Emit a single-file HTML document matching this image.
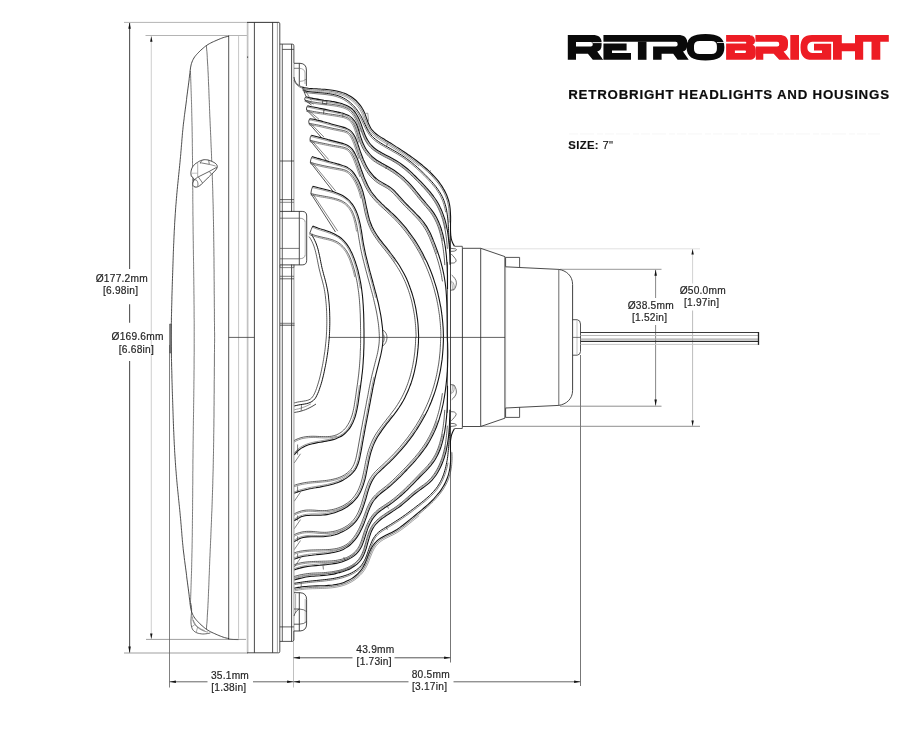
<!DOCTYPE html>
<html><head><meta charset="utf-8"><title>RetroBright 7in</title>
<style>
html,body{margin:0;padding:0;background:#fff;}
body{width:908px;height:737px;overflow:hidden;position:relative;font-family:"Liberation Sans",sans-serif;}
svg{position:absolute;left:0;top:0;display:block;will-change:transform;opacity:0.999;}
svg text{font-family:"Liberation Sans",sans-serif;stroke:none;}
</style></head><body>
<svg width="908" height="737" viewBox="0 0 908 737" fill="none" stroke-linecap="butt" stroke-linejoin="round">
<path d="M124 22.4L279 22.4" stroke="#b4b4b4" stroke-width="1"/>
<path d="M124 653L248 653" stroke="#8e8e8e" stroke-width="0.85"/>
<path d="M129.6 23L129.6 269" stroke="#555" stroke-width="1.1"/>
<path d="M129.6 304.3L129.6 322.8" stroke="#555" stroke-width="1.1"/>
<path d="M129.6 361L129.6 652.5" stroke="#555" stroke-width="1.1"/>
<path d="M129.6 22.6L128.3 28.8L130.8 28.8Z" fill="#111" stroke="none"/>
<path d="M129.6 652.8L128.3 646.6L130.8 646.6Z" fill="#111" stroke="none"/>
<path d="M145.5 35.5L247.5 35.5" stroke="#b4b4b4" stroke-width="1"/>
<path d="M146 639.4L246 639.4" stroke="#8e8e8e" stroke-width="0.85"/>
<path d="M151.3 36L151.3 639" stroke="#d2d2d2" stroke-width="1.1"/>
<path d="M151.3 36.2L150.1 41.8L152.5 41.8Z" fill="#111" stroke="none"/>
<path d="M151.3 639L150.1 633.4L152.5 633.4Z" fill="#111" stroke="none"/>
<text x="121.8" y="281.6" font-size="10.2" fill="#242424" text-anchor="middle" style="letter-spacing:0.22px;stroke:#2a2a2a;stroke-width:0.18px">&#216;177.2mm</text>
<text x="120.6" y="293.8" font-size="10.2" fill="#242424" text-anchor="middle" style="letter-spacing:0.22px;stroke:#2a2a2a;stroke-width:0.18px">[6.98in]</text>
<text x="137.6" y="340.3" font-size="10.2" fill="#242424" text-anchor="middle" style="letter-spacing:0.22px;stroke:#2a2a2a;stroke-width:0.18px">&#216;169.6mm</text>
<text x="136.4" y="352.5" font-size="10.2" fill="#242424" text-anchor="middle" style="letter-spacing:0.22px;stroke:#2a2a2a;stroke-width:0.18px">[6.68in]</text>
<path d="M481 248.8L700 248.8" stroke="#e2e2e2" stroke-width="1"/>
<path d="M481 426.3L700 426.3" stroke="#7a7a7a" stroke-width="0.85"/>
<path d="M692.6 249L692.6 283.5" stroke="#d2d2d2" stroke-width="1.0"/>
<path d="M692.6 310.5L692.6 426" stroke="#bcbcbc" stroke-width="1.0"/>
<path d="M692.6 249L691.4 254.6L693.8 254.6Z" fill="#111" stroke="none"/>
<path d="M692.6 426L691.4 420.4L693.8 420.4Z" fill="#111" stroke="none"/>
<path d="M560 269.3L661.5 269.3" stroke="#8c8c8c" stroke-width="0.9"/>
<path d="M560 406.2L661.5 406.2" stroke="#7a7a7a" stroke-width="0.85"/>
<path d="M655.6 270L655.6 298" stroke="#7a7a7a" stroke-width="0.9"/>
<path d="M655.6 325L655.6 405.5" stroke="#7a7a7a" stroke-width="0.9"/>
<path d="M655.6 269.6L654.4 275.8L656.9 275.8Z" fill="#111" stroke="none"/>
<path d="M655.6 405.8L654.4 399.6L656.9 399.6Z" fill="#111" stroke="none"/>
<text x="650.8" y="308.8" font-size="10.2" fill="#242424" text-anchor="middle" style="letter-spacing:0.22px;stroke:#2a2a2a;stroke-width:0.18px">&#216;38.5mm</text>
<text x="649.6" y="321" font-size="10.2" fill="#242424" text-anchor="middle" style="letter-spacing:0.22px;stroke:#2a2a2a;stroke-width:0.18px">[1.52in]</text>
<text x="702.8" y="293.8" font-size="10.2" fill="#242424" text-anchor="middle" style="letter-spacing:0.22px;stroke:#2a2a2a;stroke-width:0.18px">&#216;50.0mm</text>
<text x="701.6" y="306" font-size="10.2" fill="#242424" text-anchor="middle" style="letter-spacing:0.22px;stroke:#2a2a2a;stroke-width:0.18px">[1.97in]</text>
<path d="M169.5 345L169.5 687.5" stroke="#6a6a6a" stroke-width="0.85"/>
<path d="M293.5 630L293.5 687.5" stroke="#c0c0c0" stroke-width="1"/>
<path d="M450.5 452L450.5 662.5" stroke="#777" stroke-width="1"/>
<path d="M580.5 355L580.5 686" stroke="#777" stroke-width="1"/>
<path d="M169.5 681.8L207.5 681.8" stroke="#666" stroke-width="1"/>
<path d="M253 681.8L293.5 681.8" stroke="#666" stroke-width="1"/>
<path d="M169.7 681.8L175.9 680.5L175.9 683Z" fill="#111" stroke="none"/>
<path d="M293.3 681.8L287.1 680.5L287.1 683Z" fill="#111" stroke="none"/>
<text x="230" y="678.8" font-size="10.2" fill="#242424" text-anchor="middle" style="letter-spacing:0.22px;stroke:#2a2a2a;stroke-width:0.18px">35.1mm</text>
<text x="228.8" y="691" font-size="10.2" fill="#242424" text-anchor="middle" style="letter-spacing:0.22px;stroke:#2a2a2a;stroke-width:0.18px">[1.38in]</text>
<path d="M293.5 657.8L352.5 657.8" stroke="#555" stroke-width="1"/>
<path d="M394.5 657.8L450.5 657.8" stroke="#555" stroke-width="1"/>
<path d="M293.7 657.8L299.9 656.5L299.9 659Z" fill="#111" stroke="none"/>
<path d="M450.3 657.8L444.1 656.5L444.1 659Z" fill="#111" stroke="none"/>
<text x="375.4" y="653.2" font-size="10.2" fill="#242424" text-anchor="middle" style="letter-spacing:0.22px;stroke:#2a2a2a;stroke-width:0.18px">43.9mm</text>
<text x="374.2" y="664.8" font-size="10.2" fill="#242424" text-anchor="middle" style="letter-spacing:0.22px;stroke:#2a2a2a;stroke-width:0.18px">[1.73in]</text>
<path d="M293.5 681.8L408.5 681.8" stroke="#666" stroke-width="1"/>
<path d="M453.5 681.8L580.5 681.8" stroke="#666" stroke-width="1"/>
<path d="M293.7 681.8L299.9 680.5L299.9 683Z" fill="#111" stroke="none"/>
<path d="M580.3 681.8L574.1 680.5L574.1 683Z" fill="#111" stroke="none"/>
<text x="430.8" y="677.6" font-size="10.2" fill="#242424" text-anchor="middle" style="letter-spacing:0.22px;stroke:#2a2a2a;stroke-width:0.18px">80.5mm</text>
<text x="429.6" y="689.6" font-size="10.2" fill="#242424" text-anchor="middle" style="letter-spacing:0.22px;stroke:#2a2a2a;stroke-width:0.18px">[3.17in]</text>
<path d="M229 36.2L227.5 36.5Q226 36.8 224.6 37.2Q223.1 37.6 221.7 38.2Q220.3 38.7 218.9 39.3Q217.5 39.9 216.1 40.5Q214.8 41.1 213.4 41.7Q212 42.3 210.7 43Q209.3 43.7 208 44.5Q206.8 45.3 205.5 46.2Q204.3 47.1 203.2 48.1Q202.1 49.1 200.9 50.1Q199.8 51.1 198.8 52.2Q197.7 53.3 196.7 54.4Q195.7 55.5 194.8 56.7Q193.9 58 193.2 59.3Q192.5 60.6 192 62Q191.4 63.5 191.1 64.9Q190.8 66.4 190.5 67.9Q190.3 69.4 190.1 70.9Q190 72.4 189.8 73.9Q189.6 75.4 189.4 76.9Q189.2 78.4 189.1 79.9Q188.9 81.4 188.7 82.9Q188.5 84.4 188.3 85.9Q188.1 87.4 187.9 88.9Q187.7 90.4 187.5 91.9Q187.3 93.4 187.1 94.9Q186.9 96.4 186.7 97.9Q186.6 99.4 186.4 100.9Q186.2 102.4 186 103.9Q185.8 105.4 185.6 106.9Q185.4 108.4 185.2 109.9Q185 111.4 184.8 112.9Q184.6 114.3 184.4 115.8Q184.2 117.3 184.1 118.8Q183.9 120.3 183.7 121.8Q183.5 123.3 183.3 124.8Q183.2 126.3 183 127.9Q182.9 129.4 182.7 130.9Q182.6 132.4 182.4 133.9Q182.3 135.4 182.2 136.9Q182 138.4 181.9 139.9Q181.8 141.4 181.7 142.9Q181.6 144.4 181.4 145.9Q181.3 147.4 181.2 148.9Q181.1 150.4 180.9 151.9Q180.8 153.4 180.7 154.9Q180.5 156.4 180.4 157.9Q180.2 159.5 180.1 161Q180 162.5 179.8 164Q179.7 165.5 179.5 167Q179.4 168.5 179.2 170Q179.1 171.5 178.9 173Q178.7 174.5 178.6 176Q178.4 177.5 178.3 179Q178.1 180.5 178 182Q177.8 183.5 177.7 185Q177.5 186.5 177.4 188Q177.2 189.5 177.1 191Q177 192.5 176.8 194Q176.7 195.5 176.6 197Q176.4 198.5 176.3 200Q176.2 201.6 176.1 203.1Q175.9 204.6 175.8 206.1Q175.7 207.6 175.6 209.1Q175.5 210.6 175.4 212.1Q175.3 213.6 175.2 215.1Q175.1 216.6 175 218.1Q174.9 219.6 174.8 221.1Q174.7 222.7 174.6 224.2Q174.6 225.7 174.5 227.2Q174.4 228.7 174.3 230.2Q174.2 231.7 174.2 233.2Q174.1 234.7 174 236.2Q174 237.7 173.9 239.2Q173.8 240.8 173.8 242.3Q173.7 243.8 173.6 245.3Q173.6 246.8 173.5 248.3Q173.5 249.8 173.4 251.3Q173.3 252.8 173.3 254.3Q173.2 255.9 173.2 257.4Q173.1 258.9 173.1 260.4Q173 261.9 173 263.4Q172.9 264.9 172.9 266.4Q172.8 267.9 172.8 269.4Q172.7 271 172.7 272.5Q172.6 274 172.6 275.5Q172.5 277 172.5 278.5Q172.4 280 172.4 281.5Q172.3 283 172.3 284.5Q172.2 286.1 172.2 287.6Q172.2 289.1 172.1 290.6Q172.1 292.1 172 293.6Q172 295.1 171.9 296.6Q171.9 298.1 171.9 299.6Q171.8 301.2 171.8 302.7Q171.8 304.2 171.7 305.7Q171.7 307.2 171.6 308.7Q171.6 310.2 171.6 311.7Q171.5 313.2 171.5 314.7Q171.5 316.3 171.4 317.8Q171.4 319.3 171.4 320.8Q171.4 322.3 171.3 323.8Q171.3 325.3 171.3 326.8Q171.2 328.3 171.2 329.8Q171.2 331.4 171.2 332.9Q171.1 334.4 171.1 335.9L171.1 337.4" stroke="#2b2b2b" stroke-width="0.85" />
<path d="M229 638.6L227.5 638.3Q226 638 224.6 637.6Q223.1 637.2 221.7 636.6Q220.3 636.1 218.9 635.5Q217.5 634.9 216.1 634.3Q214.8 633.7 213.4 633.1Q212 632.5 210.7 631.8Q209.3 631.1 208 630.3Q206.8 629.5 205.5 628.6Q204.3 627.7 203.2 626.7Q202.1 625.7 200.9 624.7Q199.8 623.7 198.8 622.6Q197.7 621.5 196.7 620.4Q195.7 619.3 194.8 618.1Q193.9 616.8 193.2 615.5Q192.5 614.2 192 612.8Q191.4 611.3 191.1 609.9Q190.8 608.4 190.5 606.9Q190.3 605.4 190.1 603.9Q190 602.4 189.8 600.9Q189.6 599.4 189.4 597.9Q189.2 596.4 189.1 594.9Q188.9 593.4 188.7 591.9Q188.5 590.4 188.3 588.9Q188.1 587.4 187.9 585.9Q187.7 584.4 187.5 582.9Q187.3 581.4 187.1 579.9Q186.9 578.4 186.7 576.9Q186.6 575.4 186.4 573.9Q186.2 572.4 186 570.9Q185.8 569.4 185.6 567.9Q185.4 566.4 185.2 564.9Q185 563.4 184.8 561.9Q184.6 560.5 184.4 559Q184.2 557.5 184.1 556Q183.9 554.5 183.7 553Q183.5 551.5 183.3 550Q183.2 548.5 183 546.9Q182.9 545.4 182.7 543.9Q182.6 542.4 182.4 540.9Q182.3 539.4 182.2 537.9Q182 536.4 181.9 534.9Q181.8 533.4 181.7 531.9Q181.6 530.4 181.4 528.9Q181.3 527.4 181.2 525.9Q181.1 524.4 180.9 522.9Q180.8 521.4 180.7 519.9Q180.5 518.4 180.4 516.9Q180.2 515.3 180.1 513.8Q180 512.3 179.8 510.8Q179.7 509.3 179.5 507.8Q179.4 506.3 179.2 504.8Q179.1 503.3 178.9 501.8Q178.7 500.3 178.6 498.8Q178.4 497.3 178.3 495.8Q178.1 494.3 178 492.8Q177.8 491.3 177.7 489.8Q177.5 488.3 177.4 486.8Q177.2 485.3 177.1 483.8Q177 482.3 176.8 480.8Q176.7 479.3 176.6 477.8Q176.4 476.3 176.3 474.8Q176.2 473.2 176.1 471.7Q175.9 470.2 175.8 468.7Q175.7 467.2 175.6 465.7Q175.5 464.2 175.4 462.7Q175.3 461.2 175.2 459.7Q175.1 458.2 175 456.7Q174.9 455.2 174.8 453.7Q174.7 452.1 174.6 450.6Q174.6 449.1 174.5 447.6Q174.4 446.1 174.3 444.6Q174.2 443.1 174.2 441.6Q174.1 440.1 174 438.6Q174 437.1 173.9 435.6Q173.8 434 173.8 432.5Q173.7 431 173.6 429.5Q173.6 428 173.5 426.5Q173.5 425 173.4 423.5Q173.3 422 173.3 420.5Q173.2 418.9 173.2 417.4Q173.1 415.9 173.1 414.4Q173 412.9 173 411.4Q172.9 409.9 172.9 408.4Q172.8 406.9 172.8 405.4Q172.7 403.8 172.7 402.3Q172.6 400.8 172.6 399.3Q172.5 397.8 172.5 396.3Q172.4 394.8 172.4 393.3Q172.3 391.8 172.3 390.3Q172.2 388.7 172.2 387.2Q172.2 385.7 172.1 384.2Q172.1 382.7 172 381.2Q172 379.7 171.9 378.2Q171.9 376.7 171.9 375.2Q171.8 373.6 171.8 372.1Q171.8 370.6 171.7 369.1Q171.7 367.6 171.6 366.1Q171.6 364.6 171.6 363.1Q171.5 361.6 171.5 360.1Q171.5 358.5 171.4 357Q171.4 355.5 171.4 354Q171.4 352.5 171.3 351Q171.3 349.5 171.3 348Q171.2 346.5 171.2 345Q171.2 343.4 171.2 341.9Q171.1 340.4 171.1 338.9L171.1 337.4" stroke="#2b2b2b" stroke-width="0.85" />
<path d="M190.4 71L190.5 72.5Q190.5 74 190.6 75.5Q190.7 77.1 190.7 78.6Q190.8 80.1 190.8 81.6Q190.9 83.1 190.9 84.6Q191 86.1 191 87.6Q191.1 89.2 191.1 90.7Q191.2 92.2 191.2 93.7Q191.3 95.2 191.3 96.7Q191.4 98.2 191.4 99.7Q191.5 101.3 191.5 102.8Q191.6 104.3 191.6 105.8Q191.6 107.3 191.7 108.8Q191.7 110.3 191.7 111.9Q191.8 113.4 191.8 114.9Q191.8 116.4 191.9 117.9Q191.9 119.4 191.9 120.9Q192 122.4 192 124Q192 125.5 192.1 127Q192.1 128.5 192.1 130Q192.1 131.5 192.2 133Q192.2 134.6 192.2 136.1Q192.2 137.6 192.3 139.1Q192.3 140.6 192.3 142.1Q192.3 143.6 192.3 145.2Q192.4 146.7 192.4 148.2Q192.4 149.7 192.4 151.2Q192.4 152.7 192.4 154.2Q192.5 155.7 192.5 157.3Q192.5 158.8 192.5 160.3Q192.5 161.8 192.5 163.3Q192.6 164.8 192.6 166.3Q192.6 167.9 192.6 169.4Q192.6 170.9 192.6 172.4Q192.6 173.9 192.6 175.4Q192.7 176.9 192.7 178.5Q192.7 180 192.7 181.5Q192.7 183 192.7 184.5Q192.7 186 192.7 187.5Q192.7 189.1 192.8 190.6Q192.8 192.1 192.8 193.6Q192.8 195.1 192.8 196.6Q192.8 198.1 192.8 199.6Q192.8 201.2 192.8 202.7Q192.9 204.2 192.9 205.7Q192.9 207.2 192.9 208.7Q192.9 210.2 192.9 211.8Q192.9 213.3 192.9 214.8Q193 216.3 193 217.8Q193 219.3 193 220.8Q193 222.4 193 223.9Q193.1 225.4 193.1 226.9Q193.1 228.4 193.1 229.9Q193.1 231.4 193.1 233Q193.2 234.5 193.2 236Q193.2 237.5 193.2 239Q193.2 240.5 193.3 242Q193.3 243.5 193.3 245.1Q193.3 246.6 193.3 248.1Q193.4 249.6 193.4 251.1Q193.4 252.6 193.4 254.1Q193.4 255.7 193.5 257.2Q193.5 258.7 193.5 260.2Q193.5 261.7 193.6 263.2Q193.6 264.7 193.6 266.3Q193.6 267.8 193.6 269.3Q193.7 270.8 193.7 272.3Q193.7 273.8 193.7 275.3Q193.7 276.8 193.8 278.4Q193.8 279.9 193.8 281.4Q193.8 282.9 193.8 284.4Q193.9 285.9 193.9 287.4Q193.9 289 193.9 290.5Q193.9 292 193.9 293.5Q194 295 194 296.5Q194 298 194 299.6Q194 301.1 194 302.6Q194 304.1 194.1 305.6Q194.1 307.1 194.1 308.6Q194.1 310.2 194.1 311.7Q194.1 313.2 194.1 314.7Q194.1 316.2 194.1 317.7Q194.2 319.2 194.2 320.7Q194.2 322.3 194.2 323.8Q194.2 325.3 194.2 326.8Q194.2 328.3 194.2 329.8Q194.2 331.3 194.2 332.9Q194.2 334.4 194.2 335.9L194.2 337.4" stroke="#444" stroke-width="0.7" />
<path d="M190.4 603.8L190.5 602.3Q190.5 600.8 190.6 599.3Q190.7 597.7 190.7 596.2Q190.8 594.7 190.8 593.2Q190.9 591.7 190.9 590.2Q191 588.7 191 587.2Q191.1 585.6 191.1 584.1Q191.2 582.6 191.2 581.1Q191.3 579.6 191.3 578.1Q191.4 576.6 191.4 575.1Q191.5 573.5 191.5 572Q191.6 570.5 191.6 569Q191.6 567.5 191.7 566Q191.7 564.5 191.7 562.9Q191.8 561.4 191.8 559.9Q191.8 558.4 191.9 556.9Q191.9 555.4 191.9 553.9Q192 552.4 192 550.8Q192 549.3 192.1 547.8Q192.1 546.3 192.1 544.8Q192.1 543.3 192.2 541.8Q192.2 540.2 192.2 538.7Q192.2 537.2 192.3 535.7Q192.3 534.2 192.3 532.7Q192.3 531.2 192.3 529.6Q192.4 528.1 192.4 526.6Q192.4 525.1 192.4 523.6Q192.4 522.1 192.4 520.6Q192.5 519.1 192.5 517.5Q192.5 516 192.5 514.5Q192.5 513 192.5 511.5Q192.6 510 192.6 508.5Q192.6 506.9 192.6 505.4Q192.6 503.9 192.6 502.4Q192.6 500.9 192.6 499.4Q192.7 497.9 192.7 496.3Q192.7 494.8 192.7 493.3Q192.7 491.8 192.7 490.3Q192.7 488.8 192.7 487.3Q192.7 485.7 192.8 484.2Q192.8 482.7 192.8 481.2Q192.8 479.7 192.8 478.2Q192.8 476.7 192.8 475.2Q192.8 473.6 192.8 472.1Q192.9 470.6 192.9 469.1Q192.9 467.6 192.9 466.1Q192.9 464.6 192.9 463Q192.9 461.5 192.9 460Q193 458.5 193 457Q193 455.5 193 454Q193 452.4 193 450.9Q193.1 449.4 193.1 447.9Q193.1 446.4 193.1 444.9Q193.1 443.4 193.1 441.8Q193.2 440.3 193.2 438.8Q193.2 437.3 193.2 435.8Q193.2 434.3 193.3 432.8Q193.3 431.3 193.3 429.7Q193.3 428.2 193.3 426.7Q193.4 425.2 193.4 423.7Q193.4 422.2 193.4 420.7Q193.4 419.1 193.5 417.6Q193.5 416.1 193.5 414.6Q193.5 413.1 193.6 411.6Q193.6 410.1 193.6 408.5Q193.6 407 193.6 405.5Q193.7 404 193.7 402.5Q193.7 401 193.7 399.5Q193.7 398 193.8 396.4Q193.8 394.9 193.8 393.4Q193.8 391.9 193.8 390.4Q193.9 388.9 193.9 387.4Q193.9 385.8 193.9 384.3Q193.9 382.8 193.9 381.3Q194 379.8 194 378.3Q194 376.8 194 375.2Q194 373.7 194 372.2Q194 370.7 194.1 369.2Q194.1 367.7 194.1 366.2Q194.1 364.6 194.1 363.1Q194.1 361.6 194.1 360.1Q194.1 358.6 194.1 357.1Q194.2 355.6 194.2 354.1Q194.2 352.5 194.2 351Q194.2 349.5 194.2 348Q194.2 346.5 194.2 345Q194.2 343.5 194.2 341.9Q194.2 340.4 194.2 338.9L194.2 337.4" stroke="#444" stroke-width="0.7" />
<path d="M206.4 45.4L206.5 46.9Q206.6 48.4 206.7 49.9Q206.9 51.4 207 52.9Q207.1 54.4 207.2 55.9Q207.3 57.4 207.3 58.9Q207.4 60.4 207.5 61.9Q207.6 63.4 207.7 64.9Q207.8 66.4 207.9 67.9Q207.9 69.4 208 71Q208.1 72.5 208.2 74Q208.2 75.5 208.3 77Q208.4 78.5 208.4 80Q208.5 81.5 208.5 83Q208.6 84.5 208.7 86Q208.7 87.5 208.8 89Q208.9 90.5 208.9 92Q209 93.5 209 95Q209.1 96.5 209.1 98Q209.2 99.5 209.3 101Q209.3 102.5 209.4 104.1Q209.4 105.6 209.5 107.1Q209.5 108.6 209.6 110.1Q209.7 111.6 209.7 113.1Q209.8 114.6 209.8 116.1Q209.9 117.6 210 119.1Q210 120.6 210.1 122.1Q210.2 123.6 210.2 125.1Q210.3 126.6 210.4 128.1Q210.4 129.6 210.5 131.1Q210.6 132.6 210.6 134.1Q210.7 135.7 210.8 137.2Q210.8 138.7 210.9 140.2Q210.9 141.7 211 143.2Q211.1 144.7 211.1 146.2Q211.2 147.7 211.3 149.2Q211.3 150.7 211.4 152.2Q211.5 153.7 211.5 155.2Q211.6 156.7 211.6 158.2Q211.7 159.7 211.7 161.2Q211.8 162.7 211.9 164.2Q211.9 165.7 212 167.3Q212 168.8 212.1 170.3Q212.1 171.8 212.2 173.3Q212.2 174.8 212.3 176.3Q212.3 177.8 212.4 179.3Q212.4 180.8 212.5 182.3Q212.5 183.8 212.6 185.3Q212.6 186.8 212.7 188.3Q212.7 189.8 212.8 191.3Q212.8 192.8 212.8 194.3Q212.9 195.9 212.9 197.4Q213 198.9 213 200.4Q213 201.9 213.1 203.4Q213.1 204.9 213.2 206.4Q213.2 207.9 213.2 209.4Q213.3 210.9 213.3 212.4Q213.3 213.9 213.3 215.4Q213.4 216.9 213.4 218.4Q213.4 219.9 213.5 221.4Q213.5 223 213.5 224.5Q213.5 226 213.6 227.5Q213.6 229 213.6 230.5Q213.6 232 213.7 233.5Q213.7 235 213.7 236.5Q213.7 238 213.7 239.5Q213.8 241 213.8 242.5Q213.8 244 213.8 245.5Q213.8 247 213.9 248.6Q213.9 250.1 213.9 251.6Q213.9 253.1 213.9 254.6Q213.9 256.1 214 257.6Q214 259.1 214 260.6Q214 262.1 214 263.6Q214 265.1 214 266.6Q214 268.1 214.1 269.6Q214.1 271.1 214.1 272.6Q214.1 274.2 214.1 275.7Q214.1 277.2 214.1 278.7Q214.1 280.2 214.2 281.7Q214.2 283.2 214.2 284.7Q214.2 286.2 214.2 287.7Q214.2 289.2 214.2 290.7Q214.2 292.2 214.2 293.7Q214.3 295.2 214.3 296.7Q214.3 298.2 214.3 299.8Q214.3 301.3 214.3 302.8Q214.3 304.3 214.3 305.8Q214.3 307.3 214.4 308.8Q214.4 310.3 214.4 311.8Q214.4 313.3 214.4 314.8Q214.4 316.3 214.4 317.8Q214.4 319.3 214.4 320.8Q214.5 322.3 214.5 323.8Q214.5 325.4 214.5 326.9Q214.5 328.4 214.5 329.9Q214.5 331.4 214.6 332.9Q214.6 334.4 214.6 335.9L214.6 337.4" stroke="#3a3a3a" stroke-width="0.7" />
<path d="M206.4 629.4L206.5 627.9Q206.6 626.4 206.7 624.9Q206.9 623.4 207 621.9Q207.1 620.4 207.2 618.9Q207.3 617.4 207.3 615.9Q207.4 614.4 207.5 612.9Q207.6 611.4 207.7 609.9Q207.8 608.4 207.9 606.9Q207.9 605.4 208 603.8Q208.1 602.3 208.2 600.8Q208.2 599.3 208.3 597.8Q208.4 596.3 208.4 594.8Q208.5 593.3 208.5 591.8Q208.6 590.3 208.7 588.8Q208.7 587.3 208.8 585.8Q208.9 584.3 208.9 582.8Q209 581.3 209 579.8Q209.1 578.3 209.1 576.8Q209.2 575.3 209.3 573.8Q209.3 572.3 209.4 570.7Q209.4 569.2 209.5 567.7Q209.5 566.2 209.6 564.7Q209.7 563.2 209.7 561.7Q209.8 560.2 209.8 558.7Q209.9 557.2 210 555.7Q210 554.2 210.1 552.7Q210.2 551.2 210.2 549.7Q210.3 548.2 210.4 546.7Q210.4 545.2 210.5 543.7Q210.6 542.2 210.6 540.7Q210.7 539.1 210.8 537.6Q210.8 536.1 210.9 534.6Q210.9 533.1 211 531.6Q211.1 530.1 211.1 528.6Q211.2 527.1 211.3 525.6Q211.3 524.1 211.4 522.6Q211.5 521.1 211.5 519.6Q211.6 518.1 211.6 516.6Q211.7 515.1 211.7 513.6Q211.8 512.1 211.9 510.6Q211.9 509.1 212 507.5Q212 506 212.1 504.5Q212.1 503 212.2 501.5Q212.2 500 212.3 498.5Q212.3 497 212.4 495.5Q212.4 494 212.5 492.5Q212.5 491 212.6 489.5Q212.6 488 212.7 486.5Q212.7 485 212.8 483.5Q212.8 482 212.8 480.5Q212.9 478.9 212.9 477.4Q213 475.9 213 474.4Q213 472.9 213.1 471.4Q213.1 469.9 213.2 468.4Q213.2 466.9 213.2 465.4Q213.3 463.9 213.3 462.4Q213.3 460.9 213.3 459.4Q213.4 457.9 213.4 456.4Q213.4 454.9 213.5 453.4Q213.5 451.8 213.5 450.3Q213.5 448.8 213.6 447.3Q213.6 445.8 213.6 444.3Q213.6 442.8 213.7 441.3Q213.7 439.8 213.7 438.3Q213.7 436.8 213.7 435.3Q213.8 433.8 213.8 432.3Q213.8 430.8 213.8 429.3Q213.8 427.8 213.9 426.2Q213.9 424.7 213.9 423.2Q213.9 421.7 213.9 420.2Q213.9 418.7 214 417.2Q214 415.7 214 414.2Q214 412.7 214 411.2Q214 409.7 214 408.2Q214 406.7 214.1 405.2Q214.1 403.7 214.1 402.2Q214.1 400.6 214.1 399.1Q214.1 397.6 214.1 396.1Q214.1 394.6 214.2 393.1Q214.2 391.6 214.2 390.1Q214.2 388.6 214.2 387.1Q214.2 385.6 214.2 384.1Q214.2 382.6 214.2 381.1Q214.3 379.6 214.3 378.1Q214.3 376.6 214.3 375Q214.3 373.5 214.3 372Q214.3 370.5 214.3 369Q214.3 367.5 214.4 366Q214.4 364.5 214.4 363Q214.4 361.5 214.4 360Q214.4 358.5 214.4 357Q214.4 355.5 214.4 354Q214.5 352.5 214.5 351Q214.5 349.4 214.5 347.9Q214.5 346.4 214.5 344.9Q214.5 343.4 214.6 341.9Q214.6 340.4 214.6 338.9L214.6 337.4" stroke="#3a3a3a" stroke-width="0.7" />
<path d="M190.7 603L191 604.5Q191.4 606 191.5 607.5Q191.6 609.1 191.6 610.6Q191.5 612.2 191.4 613.7Q191.3 615.2 191.2 616.8Q191.1 618.3 191 619.9Q190.9 621.4 191 622.9Q191.1 624.5 191.4 626Q191.7 627.5 192.3 628.9Q193 630.3 194.2 631.3Q195.4 632.2 196.8 632.8Q198.2 633.4 199.7 633.6Q201.3 633.9 202.8 634Q204.3 634 205.9 633.8Q207.4 633.6 208.9 633.3L210.4 632.9" stroke="#333" stroke-width="0.75" />
<path d="M192.5 616.5L192.6 618Q192.6 619.5 193.1 620.9Q193.5 622.4 194.3 623.7Q195.1 625 196.1 626.1Q197.1 627.1 198.4 628Q199.6 628.9 200.9 629.6Q202.2 630.4 203.6 630.9Q205.1 631.4 206.5 631.8L208 632.1" stroke="#555" stroke-width="0.6" />
<path d="M193.1 620L193.8 621.5Q194.5 622.9 195.4 624.3Q196.4 625.6 197.6 626.7Q198.8 627.8 200.2 628.6Q201.6 629.5 203.1 630L204.6 630.6" stroke="#555" stroke-width="0.6" />
<path d="M197.7 626.9L196.2 632.5" stroke="#666" stroke-width="0.55" />
<path d="M194.8 624.6L191.6 627" stroke="#666" stroke-width="0.55" />
<path d="M228 638.9Q233 639.7 238.5 639.6" stroke="#444" stroke-width="0.7" />
<rect x="169.6" y="324" width="1.9" height="29" fill="#777" stroke="#444" stroke-width="0.5"/>
<path d="M228.7 35.6L228.7 639.2" stroke="#2b2b2b" stroke-width="0.8"/>
<path d="M238.6 36.1L238.6 638.7" stroke="#c6c6c6" stroke-width="1"/>
<path d="M191.3 176.3L191.1 175.1Q190.9 173.8 190.9 172.6Q191 171.3 191.3 170.1Q191.6 168.9 192.1 167.8Q192.7 166.6 193.5 165.7Q194.3 164.7 195.2 163.9Q196.2 163.2 197.3 162.5Q198.3 161.8 199.4 161.2Q200.6 160.6 201.7 160.3Q202.9 159.9 204.2 159.7Q205.4 159.6 206.7 159.8Q207.9 159.9 209.1 160.3Q210.3 160.7 211.4 161.2Q212.6 161.7 213.7 162.3Q214.8 162.8 215.8 163.7Q216.7 164.5 217.1 165.6Q217.5 166.8 217 167.9Q216.5 169.1 215.7 170Q214.9 171 214 171.9Q213.1 172.8 212.2 173.6Q211.3 174.5 210.4 175.4Q209.5 176.2 208.6 177.1Q207.7 178 206.8 178.9Q205.9 179.8 205 180.7Q204.2 181.6 203.3 182.5Q202.4 183.4 201.5 184.2Q200.5 185 199.5 185.8Q198.5 186.5 197.3 186.9Q196.1 187.3 195 187Q193.8 186.8 193.2 185.7Q192.5 184.6 192.8 183.4Q193 182.2 193.5 181.1Q194 179.9 193.7 178.8Q193.4 177.6 192.4 177L191.3 176.3Z" fill="#fff" stroke="none"/>
<path d="M191.3 176.3L191.1 175.1Q190.9 173.8 190.9 172.6Q191 171.3 191.3 170.1Q191.6 168.9 192.1 167.8Q192.7 166.6 193.5 165.7Q194.3 164.7 195.2 163.9Q196.2 163.2 197.3 162.5Q198.3 161.8 199.4 161.2Q200.6 160.6 201.7 160.3Q202.9 159.9 204.2 159.7Q205.4 159.6 206.7 159.8Q207.9 159.9 209.1 160.3Q210.3 160.7 211.4 161.2Q212.6 161.7 213.7 162.3Q214.8 162.8 215.8 163.7Q216.7 164.5 217.1 165.6Q217.5 166.8 217 167.9Q216.5 169.1 215.7 170Q214.9 171 214 171.9Q213.1 172.8 212.2 173.6Q211.3 174.5 210.4 175.4Q209.5 176.2 208.6 177.1Q207.7 178 206.8 178.9Q205.9 179.8 205 180.7Q204.2 181.6 203.3 182.5Q202.4 183.4 201.5 184.2Q200.5 185 199.5 185.8Q198.5 186.5 197.3 186.9Q196.1 187.3 195 187Q193.8 186.8 193.2 185.7Q192.5 184.6 192.8 183.4Q193 182.2 193.5 181.1Q194 179.9 193.7 178.8Q193.4 177.6 192.4 177L191.3 176.3" stroke="#2b2b2b" stroke-width="0.85" />
<path d="M193.9 180L197.7 177.2L209.3 171.4L216.8 167.2" stroke="#333" stroke-width="0.75" />
<path d="M198.3 176.9L202.6 183" stroke="#444" stroke-width="0.7" />
<path d="M209.3 171.4L211.7 174.4" stroke="#444" stroke-width="0.7" />
<path d="M197.7 163.1L197.7 176.9" stroke="#888" stroke-width="0.7" />
<path d="M191.9 173.2L197.7 173.2" stroke="#aaa" stroke-width="0.7" />
<path d="M193.9 180L195 179.8Q196.2 179.7 196.9 180.6Q197.6 181.6 197.8 182.8Q198.1 183.9 197.9 185.1L197.7 186.3" stroke="#444" stroke-width="0.7" />
<path d="M202 160.3L200 163.1L201.4 162.9L209.3 164.4L208.7 160.3" stroke="#444" stroke-width="0.7" />
<path d="M209.3 164.4L215.7 166" stroke="#555" stroke-width="0.6" />
<path d="M247.6 22.4L247.6 652.8" stroke="#c2c2c2" stroke-width="1.7"/>
<path d="M254.4 22.4L254.4 652.8" stroke="#2b2b2b" stroke-width="0.85"/>
<path d="M272.6 22.4L272.6 652.8" stroke="#2b2b2b" stroke-width="0.85"/>
<path d="M277.4 23L277.4 652.2" stroke="#8a8a8a" stroke-width="0.8"/>
<path d="M247 22.4 L278.6 22.4 Q279.8 22.4 279.8 23.8 L279.8 651.4 Q279.8 652.8 278.6 652.8 L247 652.8" stroke="#2b2b2b" stroke-width="0.85" />
<path d="M247.6 56.5L247.6 57.8" stroke="#2b2b2b" stroke-width="0.9"/>
<path d="M282.3 44.1L282.3 641.4" stroke="#3a3a3a" stroke-width="0.8"/>
<path d="M291.6 44.1L291.6 641.4" stroke="#2b2b2b" stroke-width="0.85"/>
<path d="M279.8 44.1 L292.2 44.1 Q293.9 44.1 293.9 45.8 L293.9 63" stroke="#2b2b2b" stroke-width="0.8" />
<path d="M293.9 63L293.9 631" stroke="#bdbdbd" stroke-width="1.5"/>
<path d="M279.8 641.4 L292.6 641.4 L293.9 640.2 L293.9 631" stroke="#2b2b2b" stroke-width="0.8" />
<path d="M282.3 49.4L293.9 49.4" stroke="#2b2b2b" stroke-width="0.75"/>
<path d="M279.8 626.9L293.9 626.9" stroke="#2b2b2b" stroke-width="0.75"/>
<path d="M280 161L294 161" stroke="#2b2b2b" stroke-width="0.75"/>
<path d="M280 199.6L294 199.6" stroke="#2b2b2b" stroke-width="0.7"/>
<path d="M280 202.3L294 202.3" stroke="#555" stroke-width="0.7"/>
<path d="M280 276.3L294 276.3" stroke="#444" stroke-width="0.7"/>
<path d="M280 278.8L294 278.8" stroke="#2b2b2b" stroke-width="0.7"/>
<path d="M280 323.3L294.5 323.3" stroke="#444" stroke-width="0.7"/>
<path d="M280 325.2L294.5 325.2" stroke="#2b2b2b" stroke-width="0.8"/>
<rect x="284" y="211.8" width="22" height="52.7" fill="#fff" stroke="none"/>
<path d="M280 211.4L302.2 211.4Q306.7 211.4 306.7 216L306.7 260.3Q306.7 264.9 302.2 264.9L280 264.9" stroke="#2b2b2b" stroke-width="0.85" />
<path d="M299.3 211.4L299.3 264.9" stroke="#2b2b2b" stroke-width="0.85"/>
<path d="M280 218.2L299.3 218.2" stroke="#444" stroke-width="0.7"/>
<path d="M299.3 218.2Q304.6 218.2 305.2 222" stroke="#555" stroke-width="0.6" />
<path d="M280 248.4L299.3 248.4" stroke="#444" stroke-width="0.7"/>
<path d="M280 258.8L299.3 258.8" stroke="#444" stroke-width="0.7"/>
<path d="M299.3 258.8Q304.6 258.8 305.2 255" stroke="#555" stroke-width="0.6" />
<path d="M305.2 222L305.2 255" stroke="#888" stroke-width="0.6"/>
<path d="M280 264.9L280 267.6L294 267.6L294 264.9" stroke="#555" stroke-width="0.7" />
<path d="M294 63.3L300 63.3Q306.4 63.6 306.4 70L306.4 86" stroke="#2b2b2b" stroke-width="0.85" />
<path d="M299.3 63.3L299.3 85.5" stroke="#2b2b2b" stroke-width="0.85"/>
<path d="M294 68.3L299.3 68.3" stroke="#444" stroke-width="0.7"/>
<path d="M299.3 68.3Q304.8 68.6 305 73L305 84" stroke="#777" stroke-width="0.6" />
<path d="M294 77C294.6 82.5 297.5 86 304 87.4" stroke="#2b2b2b" stroke-width="0.8" />
<path d="M294 80C295.5 84.5 298.5 86.8 302 88" stroke="#444" stroke-width="0.7" />
<path d="M299.3 81.5Q303.5 81.5 306.4 79" stroke="#666" stroke-width="0.6" />
<path d="M294 592.7L300 592.7Q306.6 593 306.6 599.5L306.6 624Q306.6 630.6 300 631L294 631" stroke="#2b2b2b" stroke-width="0.85" />
<path d="M299.3 592.7L299.3 631" stroke="#2b2b2b" stroke-width="0.85"/>
<path d="M294 609L299.3 609" stroke="#2b2b2b" stroke-width="0.8"/>
<path d="M294 624.2L299.3 624.2" stroke="#2b2b2b" stroke-width="0.8"/>
<path d="M299.3 609Q304.5 609.3 306.6 611.6" stroke="#333" stroke-width="0.7" />
<path d="M299.3 624.2Q304.5 624 306.6 621.5" stroke="#333" stroke-width="0.7" />
<path d="M295.6 594L295.6 613" stroke="#777" stroke-width="0.6" />
<path d="M294 616C294.8 613 296.5 610.5 299.3 609" stroke="#333" stroke-width="0.75" />
<path d="M305.2 599L305.2 623" stroke="#888" stroke-width="0.6" />
<path d="M228.7 337.4L254.4 337.4" stroke="#3a3a3a" stroke-width="0.8"/>
<path d="M328.6 337.4L505 337.4" stroke="#3a3a3a" stroke-width="0.8"/>
<path d="M450.5 226L450.5 452" stroke="#2b2b2b" stroke-width="0.85"/>
<path d="M447.4 262L447.4 412.8" stroke="#333" stroke-width="0.8"/>
<path d="M462.3 248.3 L480.7 248.3 L504.9 256.6" stroke="#2b2b2b" stroke-width="0.85" />
<path d="M505.6 267.3 L505.6 257.4 L519.6 257.4 L519.6 267.7" stroke="#2b2b2b" stroke-width="0.8" />
<path d="M505.6 266.8 L519.6 267.5 L558.8 269.4 C566 270.5 572.6 275.5 572.6 284.5" stroke="#2b2b2b" stroke-width="0.85" />
<path d="M454.4 246.3 L462.3 246.3 L462.3 248.4" stroke="#333" stroke-width="0.8" />
<path d="M450.4 248.3 L455.8 248.9 Q457 249.6 456.2 250.3 L454.2 251.2 L450.4 251.4" stroke="#333" stroke-width="0.7" />
<path d="M451.3 254 C452.6 255.5 455.6 258.5 456.1 260.1 C456.3 261.6 455 262.8 453.5 263 L450.7 263.1" stroke="#333" stroke-width="0.7" />
<path d="M451.7 275.1 C454.3 277.2 456.4 280 456.4 282.8 C456.4 286 455 288.6 453.9 289.8 L450.2 290.3" stroke="#333" stroke-width="0.7" />
<path d="M452 281.5 C454.4 283 454.6 287 453.6 289.8" stroke="#555" stroke-width="0.55" />
<path d="M450.6 280 C452 282 452.6 286 452.3 290" stroke="#666" stroke-width="0.5" />
<path d="M462.3 426.5 L480.7 426.5 L504.9 418.2" stroke="#2b2b2b" stroke-width="0.85" />
<path d="M505.6 407.5 L505.6 417.4 L519.6 417.4 L519.6 407.1" stroke="#2b2b2b" stroke-width="0.8" />
<path d="M505.6 408 L519.6 407.3 L558.8 405.4 C566 404.3 572.6 399.3 572.6 390.3" stroke="#2b2b2b" stroke-width="0.85" />
<path d="M454.4 428.5 L462.3 428.5 L462.3 426.4" stroke="#333" stroke-width="0.8" />
<path d="M450.4 426.5 L455.8 425.9 Q457 425.2 456.2 424.5 L454.2 423.6 L450.4 423.4" stroke="#333" stroke-width="0.7" />
<path d="M451.3 420.8 C452.6 419.3 455.6 416.3 456.1 414.7 C456.3 413.2 455 412 453.5 411.8 L450.7 411.7" stroke="#333" stroke-width="0.7" />
<path d="M451.7 399.7 C454.3 397.6 456.4 394.8 456.4 392 C456.4 388.8 455 386.2 453.9 385 L450.2 384.5" stroke="#333" stroke-width="0.7" />
<path d="M452 393.3 C454.4 391.8 454.6 387.8 453.6 385" stroke="#555" stroke-width="0.55" />
<path d="M450.6 394.8 C452 392.8 452.6 388.8 452.3 384.8" stroke="#666" stroke-width="0.5" />
<path d="M462.4 248.4L462.4 426.4" stroke="#2b2b2b" stroke-width="0.9"/>
<path d="M480.7 248.4L480.7 426.4" stroke="#2b2b2b" stroke-width="0.85"/>
<path d="M504.9 256.6L504.9 418.2" stroke="#2b2b2b" stroke-width="0.85"/>
<path d="M505.6 266.5L505.6 408.3" stroke="#999" stroke-width="0.6"/>
<path d="M558.8 269.4L558.8 405.4" stroke="#3a3a3a" stroke-width="0.75"/>
<path d="M572.6 284.5L572.6 390.3" stroke="#2b2b2b" stroke-width="0.9"/>
<path d="M572.6 319.7L577.2 319.7Q580.5 320.2 580.5 324L580.5 351.5Q580.5 354.7 577.2 355.2L572.6 355.2" stroke="#2b2b2b" stroke-width="0.8" />
<path d="M577 320L577 355" stroke="#aaa" stroke-width="0.7"/>
<path d="M572.6 337.4L580.5 337.4" stroke="#444" stroke-width="0.7"/>
<path d="M580.5 332.5L758.5 332.5" stroke="#3a3a3a" stroke-width="1"/>
<path d="M580.5 335.5L758 335.5" stroke="#b9b9b9" stroke-width="1"/>
<path d="M580.5 339.2L758 339.2" stroke="#a9a9a9" stroke-width="1.3"/>
<path d="M580.5 341.4L758.5 341.4" stroke="#2d2d2d" stroke-width="1.1"/>
<path d="M580.5 344.4L758 344.4" stroke="#c6c6c6" stroke-width="1"/>
<path d="M758.5 332L758.5 344.9" stroke="#222" stroke-width="1.3"/>
<defs><clipPath id="cf"><rect x="294.2" y="60" width="180" height="560"/></clipPath></defs><g clip-path="url(#cf)">
<path d="M302.5 87.5L304.5 87.7Q306.5 88 308.5 88.2Q310.6 88.3 312.6 88.5Q314.6 88.6 316.6 88.7Q318.6 88.8 320.7 89Q322.7 89.1 324.7 89.3Q326.7 89.5 328.7 89.7Q330.7 89.9 332.7 90.2Q334.7 90.6 336.7 91Q338.7 91.4 340.6 92Q342.6 92.6 344.5 93.3Q346.3 94 348.1 95Q349.9 95.9 351.6 97Q353.3 98.2 354.8 99.5Q356.3 100.8 357.7 102.3Q359.1 103.8 360.3 105.4Q361.5 107 362.5 108.8Q363.5 110.5 364.4 112.4Q365.2 114.2 365.8 116.1Q366.5 118.1 367.2 120Q367.8 121.9 368.6 123.8Q369.4 125.6 370.4 127.4Q371.4 129.2 372.7 130.7Q374 132.2 375.6 133.5Q377.1 134.8 378.8 135.9Q380.5 137 382.2 138.1Q384 139.1 385.7 140.2Q387.4 141.2 389.1 142.3Q390.9 143.3 392.6 144.4Q394.3 145.5 396 146.6Q397.7 147.6 399.4 148.7Q401.1 149.8 402.8 151Q404.5 152.1 406.2 153.2Q407.8 154.4 409.5 155.5Q411.1 156.7 412.8 157.9Q414.4 159.1 416 160.3Q417.6 161.5 419.2 162.8Q420.8 164.1 422.4 165.3Q423.9 166.6 425.5 168Q427 169.3 428.5 170.7Q430 172.1 431.4 173.5Q432.8 174.9 434.2 176.4Q435.6 177.9 436.9 179.4Q438.2 181 439.4 182.6Q440.6 184.2 441.7 185.9Q442.8 187.6 443.8 189.4Q444.8 191.1 445.7 193Q446.6 194.8 447.3 196.7Q448 198.6 448.6 200.5Q449.1 202.5 449.5 204.4Q449.9 206.4 450.1 208.4Q450.3 210.5 450.4 212.5Q450.5 214.5 450.6 216.5Q450.6 218.5 450.6 220.6Q450.5 222.6 450.5 224.6Q450.5 226.6 450.5 228.7Q450.5 230.7 450.6 232.7Q450.7 234.7 450.9 236.7Q451.2 238.8 451.8 240.7Q452.3 242.6 453.4 244.4L454.4 246.1" stroke="#141414" stroke-width="1.1" />
<path d="M302.3 88.8L304.4 89.1Q306.4 89.3 308.4 89.5Q310.5 89.7 312.5 89.8Q314.5 90 316.5 90.1Q318.6 90.2 320.6 90.3Q322.6 90.5 324.6 90.6Q326.6 90.8 328.6 91Q330.6 91.3 332.5 91.6Q334.5 91.9 336.4 92.3Q338.4 92.7 340.2 93.3Q342.1 93.8 344 94.5Q345.8 95.3 347.5 96.2Q349.2 97.1 350.8 98.2Q352.5 99.2 353.9 100.5Q355.4 101.8 356.7 103.2Q358.1 104.6 359.2 106.2Q360.4 107.8 361.4 109.5Q362.3 111.1 363.1 112.9Q363.9 114.7 364.6 116.6Q365.2 118.5 365.9 120.4Q366.6 122.4 367.4 124.3Q368.1 126.2 369.2 128.1Q370.2 129.9 371.6 131.6Q373 133.2 374.7 134.5Q376.3 135.9 378 137Q379.8 138.2 381.5 139.2Q383.3 140.3 385 141.3Q386.7 142.4 388.4 143.4Q390.2 144.5 391.9 145.5Q393.6 146.6 395.3 147.7Q397 148.8 398.7 149.9Q400.4 151 402.1 152.1Q403.7 153.2 405.4 154.3Q407.1 155.5 408.7 156.6Q410.4 157.8 412 159Q413.6 160.2 415.2 161.4Q416.8 162.6 418.4 163.9Q420 165.1 421.5 166.4Q423.1 167.7 424.6 169Q426.1 170.3 427.6 171.7Q429 173 430.4 174.4Q431.8 175.9 433.2 177.3Q434.5 178.8 435.8 180.3Q437.1 181.8 438.3 183.4Q439.5 185 440.6 186.7Q441.7 188.3 442.7 190Q443.6 191.8 444.5 193.5Q445.3 195.3 446 197.1Q446.7 199 447.3 200.9Q447.8 202.8 448.2 204.7Q448.6 206.6 448.8 208.6Q449 210.6 449.1 212.6Q449.2 214.5 449.2 216.5Q449.2 218.5 449.2 220.6L449.2 222.6" stroke="#3a3a3a" stroke-width="0.65" />
<path d="M302.2 90.2L304.2 90.4Q306.2 90.7 308.3 90.9Q310.3 91 312.4 91.2Q314.4 91.3 316.4 91.4Q318.5 91.5 320.5 91.7Q322.5 91.8 324.5 92Q326.4 92.1 328.4 92.4Q330.4 92.6 332.3 92.9Q334.2 93.2 336.1 93.6Q338 94 339.9 94.6Q341.7 95.1 343.5 95.8Q345.2 96.5 346.9 97.4Q348.5 98.2 350.1 99.3Q351.6 100.3 353.1 101.5Q354.5 102.8 355.7 104.1Q357 105.5 358.1 107Q359.3 108.5 360.2 110.1Q361.1 111.8 361.9 113.5Q362.7 115.2 363.3 117.1Q364 118.9 364.6 120.9Q365.3 122.8 366.1 124.8Q366.9 126.8 368 128.8Q369.1 130.7 370.6 132.4Q372.1 134.2 373.8 135.6Q375.5 137 377.3 138.1Q379.1 139.3 380.8 140.4Q382.6 141.4 384.3 142.5Q386 143.5 387.7 144.6Q389.5 145.6 391.2 146.7Q392.9 147.8 394.6 148.8Q396.3 149.9 398 151Q399.6 152.1 401.3 153.2Q403 154.3 404.6 155.5Q406.3 156.6 407.9 157.7Q409.6 158.9 411.2 160.1Q412.8 161.3 414.4 162.5Q416 163.7 417.6 164.9L419.1 166.2" stroke="#555" stroke-width="0.55" />
<path d="M304 90.8L306 91.2Q308 91.6 310 91.8Q312 92.1 314 92.2Q316.1 92.4 318.1 92.6Q320.1 92.8 322.1 92.9Q324.2 93.1 326.2 93.3Q328.2 93.6 330.2 93.9Q332.2 94.2 334.2 94.7Q336.2 95.1 338.1 95.7Q340 96.4 341.9 97.2Q343.7 98.1 345.4 99.1Q347.2 100.2 348.8 101.4Q350.4 102.7 351.9 104.1Q353.3 105.5 354.7 107Q356 108.5 357.2 110.1Q358.4 111.8 359.5 113.5Q360.6 115.2 361.5 117Q362.4 118.8 363.3 120.7Q364.1 122.5 365 124.4Q365.8 126.2 366.7 128Q367.6 129.9 368.7 131.6Q369.8 133.3 371 134.9Q372.3 136.5 373.8 137.9Q375.3 139.2 376.9 140.4Q378.5 141.6 380.3 142.7Q382 143.8 383.7 144.8Q385.5 145.9 387.3 146.8Q389 147.8 390.8 148.8Q392.6 149.8 394.4 150.8Q396.1 151.8 397.9 152.9Q399.6 153.9 401.3 155Q403 156.1 404.7 157.3Q406.3 158.4 408 159.7Q409.6 160.9 411.2 162.1Q412.8 163.4 414.3 164.7Q415.9 166 417.4 167.4Q418.9 168.7 420.4 170.1Q421.9 171.5 423.3 172.9Q424.8 174.3 426.2 175.8Q427.6 177.2 429 178.7Q430.4 180.2 431.8 181.7Q433.1 183.2 434.4 184.8Q435.7 186.3 436.9 188Q438.1 189.6 439.2 191.3Q440.3 193 441.3 194.8Q442.3 196.6 443.1 198.4Q443.9 200.3 444.5 202.2Q445.2 204.2 445.7 206.1Q446.2 208.1 446.6 210.1Q446.9 212.1 447.2 214.1Q447.5 216.1 447.7 218.1Q447.9 220.2 448.1 222.2Q448.2 224.2 448.3 226.2Q448.5 228.3 448.6 230.3Q448.7 232.3 448.8 234.3Q448.9 236.4 449 238.4Q449.1 240.4 449.3 242.4Q449.5 244.5 449.7 246.5L450 248.5" stroke="#141414" stroke-width="1.0" />
<path d="M303.8 92.1L305.8 92.5Q307.8 92.8 309.8 93.1Q311.9 93.4 313.9 93.5Q316 93.7 318 93.9Q320 94 322 94.2Q324 94.4 326 94.6Q328 94.9 330 95.2Q332 95.5 333.9 95.9Q335.8 96.4 337.7 97Q339.5 97.6 341.3 98.4Q343.1 99.2 344.8 100.3Q346.4 101.3 348 102.5Q349.5 103.7 351 105Q352.4 106.4 353.7 107.8Q355 109.3 356.2 110.9Q357.4 112.5 358.4 114.2Q359.4 115.9 360.3 117.6Q361.3 119.4 362.1 121.2Q362.9 123.1 363.8 124.9Q364.6 126.8 365.6 128.6Q366.5 130.5 367.6 132.3Q368.7 134.1 370 135.7Q371.3 137.4 372.9 138.8Q374.4 140.2 376.1 141.5Q377.8 142.7 379.6 143.8Q381.3 144.9 383.1 145.9Q384.9 147 386.6 148Q388.4 149 390.2 150Q391.9 150.9 393.7 152Q395.5 153 397.2 154Q398.9 155 400.6 156.1Q402.3 157.2 403.9 158.3Q405.6 159.5 407.2 160.7Q408.8 161.9 410.4 163.1Q412 164.4 413.5 165.7Q415 167 416.5 168.3Q418.1 169.7 419.5 171Q421 172.4 422.4 173.8Q423.9 175.2 425.3 176.7Q426.7 178.1 428.1 179.6Q429.5 181 430.8 182.5Q432.1 184 433.4 185.6Q434.7 187.1 435.9 188.7Q437.1 190.3 438.1 192Q439.2 193.7 440.2 195.4Q441.1 197.2 441.9 199Q442.7 200.8 443.3 202.7Q443.9 204.5 444.4 206.5Q444.9 208.4 445.3 210.3L445.7 212.3" stroke="#3a3a3a" stroke-width="0.65" />
<path d="M305.8 96.7L307.8 97.2Q309.7 97.7 311.7 98.1Q313.7 98.6 315.7 98.9Q317.7 99.3 319.7 99.6Q321.7 99.9 323.7 100.2Q325.7 100.4 327.7 100.7Q329.7 101 331.7 101.4Q333.7 101.7 335.6 102.1Q337.6 102.5 339.6 103Q341.6 103.5 343.5 104.2Q345.4 104.8 347.2 105.7Q349 106.6 350.6 107.8Q352.3 109 353.6 110.5Q355 112 356.1 113.7Q357.2 115.4 358.1 117.2Q359 119 359.8 120.9Q360.6 122.7 361.3 124.6Q362 126.5 362.6 128.4Q363.3 130.3 364 132.2Q364.7 134.1 365.5 136Q366.3 137.9 367.3 139.6Q368.3 141.4 369.5 143Q370.7 144.6 372.1 146Q373.6 147.5 375.2 148.7Q376.8 149.9 378.5 151Q380.3 152 382 153Q383.8 154 385.6 154.9Q387.4 155.8 389.2 156.7Q391 157.7 392.8 158.7Q394.5 159.6 396.3 160.7Q398 161.8 399.7 162.9Q401.3 164.1 402.9 165.3Q404.5 166.5 406.1 167.8Q407.7 169.1 409.2 170.4Q410.7 171.8 412.2 173.2Q413.6 174.6 415.1 176Q416.5 177.4 417.9 178.8Q419.4 180.3 420.8 181.7Q422.2 183.2 423.6 184.7Q425 186.1 426.3 187.6Q427.7 189.1 429 190.7Q430.3 192.2 431.6 193.8Q432.9 195.4 434 197Q435.2 198.6 436.3 200.3Q437.4 202 438.4 203.8Q439.4 205.6 440.2 207.4Q441.1 209.2 441.9 211.1Q442.6 213 443.3 214.9Q444 216.8 444.6 218.7Q445.2 220.7 445.7 222.6Q446.2 224.6 446.6 226.6Q447 228.6 447.4 230.5Q447.7 232.5 448 234.5Q448.3 236.5 448.5 238.6Q448.8 240.6 449 242.6Q449.2 244.6 449.3 246.6Q449.5 248.6 449.6 250.7Q449.7 252.7 449.8 254.7Q449.9 256.7 449.9 258.7Q450 260.8 450 262.8L450.1 264.8" stroke="#141414" stroke-width="1.1" />
<path d="M305.5 97.9L307.5 98.4Q309.4 98.9 311.4 99.4Q313.4 99.8 315.5 100.1Q317.5 100.5 319.5 100.8Q321.5 101.1 323.5 101.4Q325.5 101.7 327.5 102Q329.5 102.3 331.5 102.6Q333.4 103 335.4 103.4Q337.4 103.8 339.3 104.2Q341.2 104.7 343.1 105.3Q344.9 105.9 346.7 106.8Q348.4 107.6 349.9 108.8Q351.4 109.9 352.7 111.3Q354 112.8 355 114.4Q356.1 116 357 117.8Q357.9 119.5 358.7 121.3Q359.4 123.2 360.1 125.1Q360.8 126.9 361.5 128.9Q362.1 130.8 362.8 132.7Q363.6 134.6 364.4 136.5Q365.2 138.4 366.2 140.2Q367.2 142.1 368.5 143.8Q369.7 145.5 371.3 146.9Q372.8 148.4 374.4 149.7Q376.1 150.9 377.9 152Q379.6 153.1 381.4 154.1Q383.2 155.1 385 156Q386.8 156.9 388.6 157.9Q390.4 158.8 392.2 159.8Q393.9 160.7 395.6 161.8Q397.3 162.8 398.9 163.9Q400.6 165.1 402.2 166.3Q403.8 167.5 405.3 168.8Q406.8 170 408.3 171.4Q409.8 172.7 411.3 174.1Q412.8 175.5 414.2 176.9Q415.6 178.3 417.1 179.7Q418.5 181.1 419.9 182.6Q421.3 184 422.7 185.5Q424 187 425.4 188.5Q426.8 189.9 428.1 191.5Q429.4 193 430.6 194.5Q431.9 196.1 433 197.7Q434.2 199.3 435.3 201Q436.3 202.7 437.3 204.4Q438.2 206.2 439.1 208Q440 209.7 440.7 211.6Q441.5 213.4 442.1 215.3Q442.8 217.2 443.4 219.1Q444 221 444.4 222.9Q444.9 224.9 445.4 226.8L445.8 228.8" stroke="#444" stroke-width="0.55" />
<path d="M304.9 100.2L306.9 100.7Q308.9 101.2 311 101.6Q313 102 315.1 102.3Q317.1 102.6 319.1 102.9Q321.2 103.1 323.2 103.3Q325.2 103.6 327.2 103.8Q329.2 104 331.2 104.2Q333.1 104.5 335.1 104.8Q337 105.1 339 105.5Q340.9 105.9 342.7 106.4Q344.5 107 346.2 107.7Q347.9 108.5 349.3 109.5Q350.8 110.6 352 111.9Q353.3 113.3 354.3 114.9Q355.4 116.4 356.2 118.2Q357.1 119.9 357.9 121.7Q358.6 123.5 359.3 125.4Q360 127.2 360.7 129.1Q361.3 131.1 362.1 133Q362.8 134.9 363.6 136.8Q364.4 138.8 365.5 140.7Q366.5 142.5 367.8 144.3Q369.1 146 370.7 147.5Q372.2 149.1 373.9 150.3Q375.6 151.6 377.4 152.7Q379.2 153.8 381 154.8Q382.8 155.8 384.6 156.8Q386.4 157.7 388.2 158.6Q390 159.5 391.8 160.5Q393.5 161.5 395.2 162.5Q396.8 163.5 398.5 164.6Q400.1 165.8 401.7 167Q403.2 168.2 404.8 169.4Q406.3 170.7 407.8 172Q409.3 173.3 410.7 174.7Q412.2 176.1 413.6 177.5Q415 178.9 416.5 180.3Q417.9 181.7 419.3 183.2Q420.7 184.6 422 186.1Q423.4 187.6 424.8 189Q426.1 190.5 427.4 192Q428.7 193.5 429.9 195.1Q431.2 196.6 432.3 198.2Q433.5 199.8 434.5 201.5Q435.6 203.1 436.5 204.8Q437.5 206.6 438.3 208.3Q439.2 210.1 439.9 211.9Q440.7 213.7 441.3 215.6Q442 217.5 442.6 219.3Q443.1 221.2 443.6 223.2Q444.1 225.1 444.5 227Q444.9 229 445.3 230.9Q445.6 232.9 445.9 234.8Q446.2 236.8 446.5 238.8Q446.7 240.8 446.9 242.8Q447.1 244.8 447.2 246.8L447.4 248.8" stroke="#2c2c2c" stroke-width="0.75" />
<path d="M304.6 101.4L306.6 101.9Q308.6 102.4 310.7 102.8Q312.8 103.2 314.8 103.5Q316.9 103.9 319 104.1Q321 104.4 323 104.6Q325 104.8 327 105Q329 105.2 331 105.5Q332.9 105.7 334.8 106Q336.8 106.3 338.6 106.7Q340.5 107.1 342.3 107.6Q344 108.1 345.6 108.8Q347.2 109.5 348.6 110.5Q349.9 111.5 351.1 112.8Q352.3 114.1 353.3 115.6Q354.3 117.1 355.1 118.7Q356 120.4 356.7 122.2Q357.5 123.9 358.1 125.8Q358.8 127.7 359.5 129.6L360.2 131.5" stroke="#4a4a4a" stroke-width="0.6" />
<path d="M305.8 96.7Q304.2 98.4 304.9 100.2" stroke="#1e1e1e" stroke-width="0.8" />
<path d="M304.9 100.2L311.5 105" stroke="#1e1e1e" stroke-width="0.75" />
<path d="M306.8 100.5L313.7 104.1" stroke="#444" stroke-width="0.65" />
<path d="M307.5 105.8L309.5 106.2Q311.4 106.6 313.4 107Q315.4 107.4 317.4 107.8Q319.3 108.2 321.3 108.6Q323.3 109 325.3 109.4Q327.2 109.8 329.2 110.2Q331.2 110.6 333.1 111Q335.1 111.4 337.1 111.9Q339 112.3 341 112.8Q343 113.2 344.9 113.9Q346.8 114.5 348.6 115.4Q350.3 116.4 351.8 117.8Q353.2 119.2 354.4 120.8Q355.5 122.5 356.4 124.3Q357.2 126.1 357.9 128Q358.6 129.9 359.2 131.8Q359.8 133.8 360.3 135.7Q360.9 137.6 361.6 139.5Q362.2 141.4 363 143.3Q363.8 145.1 364.8 146.9Q365.7 148.7 366.8 150.3Q368 152 369.3 153.5Q370.6 155.1 372 156.5Q373.5 157.8 375.1 159Q376.7 160.2 378.5 161.3Q380.2 162.3 381.9 163.3Q383.7 164.3 385.5 165.2Q387.2 166.2 389 167.2Q390.7 168.2 392.4 169.3Q394.1 170.4 395.7 171.5Q397.4 172.7 399 173.9Q400.6 175.1 402.1 176.4Q403.7 177.7 405.1 179.1Q406.6 180.5 408 181.9Q409.4 183.4 410.8 184.9Q412.1 186.4 413.4 187.9Q414.7 189.5 415.9 191Q417.2 192.6 418.5 194.2Q419.7 195.7 421 197.3Q422.3 198.9 423.6 200.4Q424.9 201.9 426.2 203.5Q427.5 205 428.8 206.5Q430.1 208.1 431.3 209.7Q432.5 211.3 433.7 212.9Q434.8 214.6 435.8 216.3Q436.8 218.1 437.7 219.9Q438.6 221.7 439.3 223.6Q440.1 225.4 440.7 227.3Q441.4 229.2 441.9 231.2Q442.5 233.1 443 235.1Q443.4 237 443.9 239Q444.3 241 444.6 243Q445 244.9 445.3 246.9Q445.6 248.9 445.8 250.9Q446.1 252.9 446.3 254.9Q446.5 256.9 446.6 258.9Q446.8 260.9 446.9 262.9Q447.1 264.9 447.2 267Q447.3 269 447.3 271Q447.4 273 447.5 275Q447.5 277 447.5 279Q447.5 281 447.5 283.1Q447.5 285.1 447.5 287.1L447.5 289.1" stroke="#141414" stroke-width="1.1" />
<path d="M307.2 107L309.2 107.4Q311.2 107.9 313.2 108.3Q315.1 108.7 317.1 109.1Q319.1 109.4 321.1 109.8Q323 110.2 325 110.6Q327 111 329 111.4Q330.9 111.8 332.9 112.2Q334.9 112.6 336.8 113.1Q338.8 113.5 340.7 114Q342.6 114.4 344.5 115Q346.3 115.6 347.9 116.5Q349.6 117.4 350.9 118.7Q352.3 120 353.3 121.5Q354.4 123.1 355.2 124.9Q356.1 126.6 356.7 128.4Q357.4 130.3 358 132.2Q358.6 134.1 359.1 136.1Q359.7 138 360.4 139.9Q361 141.9 361.9 143.8Q362.7 145.7 363.7 147.5Q364.6 149.3 365.8 151Q367 152.8 368.3 154.3Q369.7 155.9 371.2 157.4Q372.7 158.8 374.4 160Q376 161.3 377.8 162.3Q379.5 163.4 381.3 164.4Q383.1 165.4 384.8 166.3Q386.6 167.3 388.3 168.3Q390 169.3 391.7 170.4Q393.4 171.4 395 172.6Q396.7 173.7 398.2 174.9Q399.8 176.1 401.3 177.4Q402.8 178.7 404.3 180Q405.7 181.4 407.1 182.8Q408.5 184.2 409.8 185.7Q411.1 187.2 412.4 188.7Q413.7 190.3 415 191.8Q416.2 193.4 417.5 195Q418.7 196.5 420 198.1Q421.3 199.7 422.6 201.2Q423.9 202.8 425.2 204.3Q426.5 205.8 427.8 207.3Q429.1 208.9 430.3 210.4Q431.5 212 432.6 213.6Q433.7 215.3 434.7 217Q435.7 218.7 436.6 220.4Q437.4 222.2 438.2 224Q438.9 225.9 439.5 227.7Q440.2 229.6 440.7 231.5Q441.3 233.4 441.8 235.4Q442.2 237.3 442.6 239.3L443 241.2" stroke="#444" stroke-width="0.55" />
<path d="M306.6 110.1L308.6 110.5Q310.6 110.9 312.5 111.3Q314.5 111.6 316.5 112Q318.5 112.3 320.5 112.6Q322.5 112.9 324.5 113.2Q326.5 113.5 328.5 113.8Q330.5 114.1 332.4 114.4Q334.4 114.7 336.4 115Q338.4 115.3 340.3 115.6Q342.2 116 344 116.5Q345.7 116.9 347.3 117.7Q348.8 118.4 350.1 119.6Q351.4 120.7 352.5 122.2Q353.5 123.6 354.3 125.3Q355.1 127 355.8 128.8Q356.4 130.6 357 132.5Q357.6 134.4 358.1 136.4Q358.7 138.3 359.4 140.3Q360.1 142.3 360.9 144.2Q361.7 146.1 362.7 148Q363.7 149.9 364.9 151.6Q366.1 153.4 367.5 155Q368.9 156.7 370.5 158.1Q372 159.6 373.7 160.9Q375.5 162.1 377.2 163.2Q379 164.3 380.8 165.3Q382.6 166.3 384.3 167.2Q386.1 168.2 387.8 169.2Q389.5 170.2 391.2 171.3Q392.8 172.3 394.4 173.4Q396 174.6 397.6 175.7Q399.2 176.9 400.7 178.2Q402.1 179.5 403.6 180.8Q405 182.1 406.4 183.5Q407.7 184.9 409 186.4Q410.4 187.9 411.6 189.4Q412.9 190.9 414.2 192.5Q415.4 194 416.7 195.6Q417.9 197.2 419.2 198.8Q420.5 200.3 421.8 201.9Q423.1 203.4 424.4 205Q425.7 206.5 427 208Q428.3 209.5 429.5 211.1Q430.7 212.6 431.8 214.2Q432.9 215.8 433.8 217.5Q434.8 219.2 435.6 220.9Q436.5 222.6 437.2 224.4Q437.9 226.2 438.6 228.1Q439.2 229.9 439.7 231.8Q440.3 233.7 440.7 235.6Q441.2 237.5 441.6 239.5Q442 241.4 442.3 243.4Q442.7 245.3 443 247.3Q443.3 249.2 443.5 251.2Q443.8 253.2 444 255.2Q444.2 257.1 444.4 259.1Q444.5 261.1 444.7 263.1L444.8 265.1" stroke="#2c2c2c" stroke-width="0.75" />
<path d="M306.3 111.3L308.3 111.7Q310.3 112.1 312.3 112.5Q314.3 112.9 316.3 113.2Q318.3 113.5 320.3 113.8Q322.3 114.1 324.3 114.4Q326.2 114.7 328.2 115Q330.2 115.3 332.2 115.6Q334.2 115.9 336.1 116.2Q338.1 116.5 340 116.9Q341.8 117.2 343.5 117.6Q345.2 118.1 346.7 118.8Q348.1 119.4 349.3 120.5Q350.5 121.5 351.4 122.9Q352.4 124.3 353.2 125.9Q354 127.5 354.6 129.3Q355.2 131 355.8 132.9Q356.4 134.8 356.9 136.7Q357.5 138.7 358.2 140.7L358.9 142.7" stroke="#4a4a4a" stroke-width="0.6" />
<path d="M307.5 105.8Q305.9 108 306.6 110.1" stroke="#1e1e1e" stroke-width="0.8" />
<path d="M306.6 110.1L316.8 120.2" stroke="#1e1e1e" stroke-width="0.75" />
<path d="M308.5 110.4L319 119.3" stroke="#444" stroke-width="0.65" />
<path d="M309.7 118.7L311.7 119Q313.7 119.3 315.7 119.7Q317.6 120.1 319.6 120.6Q321.5 121.1 323.5 121.7Q325.4 122.2 327.4 122.8Q329.3 123.3 331.2 123.9Q333.2 124.5 335.1 125Q337.1 125.5 339 126Q341 126.6 342.9 127.1Q344.9 127.6 346.7 128.4Q348.6 129.1 350.1 130.4Q351.7 131.7 352.8 133.3Q354 135 354.9 136.8Q355.8 138.6 356.5 140.5Q357.3 142.3 357.9 144.2Q358.6 146.2 359.2 148.1Q359.9 150 360.5 151.9Q361.2 153.8 361.9 155.7Q362.6 157.6 363.3 159.4Q364.1 161.3 365 163.1Q365.8 165 366.8 166.7Q367.8 168.5 368.9 170.2Q370 171.9 371.3 173.4Q372.5 175 373.9 176.5Q375.3 177.9 376.9 179.1Q378.5 180.4 380.2 181.4Q381.9 182.5 383.7 183.4Q385.5 184.4 387.2 185.4Q389 186.4 390.6 187.6Q392.2 188.8 393.7 190.2Q395.2 191.6 396.5 193.1Q397.9 194.5 399.2 196.1Q400.5 197.6 401.9 199.1Q403.2 200.6 404.6 202.1Q406 203.5 407.4 205Q408.8 206.4 410.2 207.8Q411.7 209.3 413.1 210.7Q414.5 212.1 415.9 213.6Q417.3 215 418.7 216.5Q420.1 218 421.4 219.5Q422.7 221 423.9 222.6Q425.1 224.3 426.2 225.9Q427.3 227.6 428.3 229.4Q429.3 231.2 430.2 233Q431 234.8 431.8 236.7Q432.6 238.5 433.3 240.4Q434.1 242.3 434.8 244.1Q435.5 246 436.2 247.9Q436.9 249.8 437.6 251.7Q438.2 253.6 438.9 255.5Q439.5 257.5 440.1 259.4Q440.7 261.3 441.2 263.3Q441.7 265.2 442.2 267.2Q442.7 269.1 443.1 271.1Q443.6 273.1 443.9 275Q444.3 277 444.6 279Q444.9 281 445.2 283Q445.4 285 445.7 287Q445.9 289 446.1 291Q446.2 293 446.4 295.1Q446.5 297.1 446.6 299.1Q446.7 301.1 446.8 303.1Q446.9 305.1 446.9 307.1Q447 309.2 447 311.2Q447.1 313.2 447.1 315.2Q447.1 317.2 447.1 319.2Q447.2 321.3 447.2 323.3Q447.2 325.3 447.2 327.3Q447.2 329.3 447.2 331.3Q447.2 333.4 447.3 335.4L447.3 337.4" stroke="#141414" stroke-width="1.1" />
<path d="M309.5 119.9L311.5 120.2Q313.5 120.6 315.4 121Q317.4 121.4 319.3 121.8Q321.2 122.3 323.2 122.9Q325.1 123.4 327 124Q329 124.5 330.9 125.1Q332.8 125.7 334.8 126.2Q336.7 126.8 338.7 127.3Q340.7 127.8 342.6 128.3Q344.5 128.8 346.2 129.5Q347.9 130.2 349.4 131.4Q350.8 132.5 351.8 134.1Q352.9 135.6 353.8 137.4Q354.6 139.1 355.4 140.9Q356.1 142.8 356.8 144.7Q357.4 146.6 358.1 148.5Q358.7 150.4 359.3 152.3Q360 154.2 360.7 156.1Q361.4 158 362.2 159.9Q363 161.8 363.9 163.7Q364.7 165.5 365.7 167.3Q366.7 169.1 367.9 170.9Q369 172.6 370.3 174.2Q371.6 175.8 373 177.3Q374.5 178.8 376.1 180.1Q377.8 181.4 379.5 182.5Q381.3 183.6 383.1 184.5Q384.9 185.5 386.6 186.5Q388.3 187.5 389.9 188.6Q391.4 189.8 392.9 191.1Q394.3 192.4 395.6 193.9Q397 195.4 398.3 196.9Q399.6 198.4 400.9 199.9Q402.3 201.5 403.7 202.9Q405.1 204.4 406.5 205.9Q407.9 207.3 409.4 208.7Q410.8 210.1 412.2 211.6Q413.6 213 415 214.4Q416.4 215.9 417.8 217.3Q419.1 218.8 420.4 220.3Q421.7 221.8 422.9 223.4Q424.1 225 425.2 226.6Q426.3 228.3 427.2 230Q428.2 231.7 429 233.5Q429.9 235.3 430.7 237.1Q431.4 239 432.2 240.8Q432.9 242.7 433.6 244.6Q434.3 246.5 435 248.4Q435.7 250.2 436.4 252.1L437 254" stroke="#444" stroke-width="0.55" />
<path d="M309 123.4L310.9 123.7Q312.8 124 314.7 124.4Q316.6 124.7 318.5 125.1Q320.4 125.5 322.3 125.9Q324.3 126.3 326.2 126.8Q328.2 127.3 330.1 127.7Q332.1 128.2 334.1 128.6Q336.1 129 338.1 129.4Q340.1 129.8 342 130.2Q343.9 130.5 345.5 131.1Q347.1 131.6 348.4 132.6Q349.7 133.5 350.7 134.9Q351.8 136.3 352.6 138Q353.5 139.6 354.2 141.4Q354.9 143.2 355.6 145.1Q356.2 147 356.9 148.9Q357.5 150.8 358.2 152.7Q358.8 154.6 359.5 156.6Q360.2 158.5 361 160.4Q361.8 162.3 362.7 164.2Q363.6 166.1 364.6 167.9Q365.7 169.8 366.8 171.5Q368 173.3 369.3 175Q370.6 176.7 372.2 178.2Q373.7 179.7 375.4 181.1Q377.1 182.4 378.9 183.6Q380.7 184.7 382.5 185.6Q384.3 186.6 386 187.5Q387.6 188.5 389.1 189.6Q390.6 190.7 392 192Q393.4 193.3 394.7 194.8Q396 196.2 397.4 197.7Q398.7 199.2 400 200.8Q401.4 202.3 402.8 203.8Q404.2 205.3 405.6 206.7Q407 208.2 408.5 209.6Q409.9 211 411.3 212.4Q412.8 213.9 414.1 215.3Q415.5 216.7 416.9 218.2Q418.2 219.6 419.5 221.1Q420.7 222.6 421.9 224.2Q423.1 225.7 424.1 227.3Q425.2 228.9 426.1 230.6Q427.1 232.3 427.9 234.1Q428.7 235.8 429.5 237.6Q430.3 239.5 431 241.3Q431.7 243.2 432.5 245Q433.2 246.9 433.9 248.8Q434.5 250.7 435.2 252.5Q435.9 254.4 436.5 256.3Q437.1 258.2 437.7 260.1Q438.3 262 438.8 263.9Q439.3 265.8 439.8 267.8Q440.3 269.7 440.7 271.6Q441.1 273.6 441.5 275.5Q441.8 277.5 442.1 279.4L442.5 281.4" stroke="#2c2c2c" stroke-width="0.75" />
<path d="M308.8 124.7L310.7 125Q312.6 125.2 314.5 125.6Q316.3 125.9 318.2 126.3Q320.1 126.7 322 127.1Q323.9 127.6 325.9 128Q327.8 128.5 329.8 128.9Q331.8 129.4 333.8 129.8Q335.8 130.2 337.8 130.6Q339.8 131 341.6 131.4Q343.5 131.7 345 132.2Q346.5 132.7 347.6 133.5Q348.8 134.4 349.7 135.6Q350.7 136.9 351.5 138.5Q352.3 140.1 353 141.9Q353.8 143.7 354.4 145.5Q355.1 147.4 355.7 149.3Q356.3 151.2 357 153.1Q357.6 155.1 358.4 157L359.1 158.9" stroke="#4a4a4a" stroke-width="0.6" />
<path d="M309.7 118.7Q308.1 121.1 309 123.4" stroke="#1e1e1e" stroke-width="0.8" />
<path d="M309 123.4L321.8 138" stroke="#1e1e1e" stroke-width="0.75" />
<path d="M310.9 123.7L324 137.1" stroke="#444" stroke-width="0.65" />
<path d="M311.3 135.3L313.3 135.8Q315.2 136.3 317.2 136.8Q319.1 137.3 321.1 137.8Q323 138.3 325 138.8Q327 139.3 328.9 139.9Q330.9 140.4 332.8 140.9Q334.8 141.4 336.7 141.9Q338.7 142.4 340.6 142.9Q342.6 143.4 344.5 144.1Q346.4 144.7 348.2 145.7Q349.9 146.7 351.3 148.2Q352.7 149.6 353.7 151.4Q354.8 153.1 355.6 154.9Q356.5 156.7 357.3 158.6Q358 160.5 358.7 162.4Q359.4 164.3 360.1 166.2Q360.8 168.1 361.4 170Q362.1 171.9 362.8 173.8Q363.5 175.7 364.2 177.6Q365 179.5 365.8 181.3Q366.6 183.2 367.5 185Q368.4 186.8 369.4 188.5Q370.4 190.3 371.5 192Q372.6 193.6 373.9 195.2Q375.2 196.8 376.5 198.3Q377.9 199.8 379.3 201.2Q380.7 202.7 382.2 204.1Q383.7 205.4 385.1 206.8Q386.6 208.2 388.1 209.5Q389.6 210.9 391.1 212.3Q392.6 213.6 394 215Q395.5 216.4 396.9 217.9Q398.3 219.4 399.7 220.8Q401 222.3 402.4 223.9Q403.7 225.4 405 226.9Q406.3 228.5 407.5 230.1Q408.7 231.7 409.9 233.3Q411.1 234.9 412.3 236.6Q413.5 238.2 414.6 239.9Q415.7 241.6 416.8 243.3Q417.8 245 418.9 246.8Q419.9 248.5 420.9 250.3Q421.9 252 422.8 253.8Q423.7 255.6 424.6 257.4Q425.5 259.2 426.4 261.1Q427.3 262.9 428.1 264.7Q428.9 266.6 429.7 268.5Q430.4 270.3 431.2 272.2Q431.9 274.1 432.6 276Q433.3 277.9 433.9 279.8Q434.5 281.7 435.1 283.7Q435.7 285.6 436.3 287.5Q436.8 289.5 437.4 291.4Q437.9 293.4 438.3 295.4Q438.8 297.3 439.2 299.3Q439.7 301.3 440 303.3Q440.4 305.2 440.8 307.2Q441.1 309.2 441.4 311.2Q441.7 313.2 441.9 315.2Q442.2 317.2 442.4 319.2Q442.6 321.3 442.8 323.3Q442.9 325.3 443.1 327.3Q443.2 329.3 443.3 331.3Q443.3 333.4 443.4 335.4L443.4 337.4" stroke="#141414" stroke-width="1.1" />
<path d="M311 136.5L313 137Q314.9 137.5 316.9 138Q318.8 138.5 320.8 139Q322.7 139.5 324.7 140Q326.6 140.5 328.6 141.1Q330.5 141.6 332.5 142.1Q334.4 142.6 336.4 143.1Q338.4 143.6 340.3 144.1Q342.2 144.6 344.1 145.2Q345.9 145.9 347.5 146.8Q349.1 147.7 350.4 149Q351.7 150.4 352.7 152Q353.7 153.7 354.5 155.5Q355.4 157.2 356.1 159.1Q356.9 160.9 357.6 162.8Q358.3 164.7 358.9 166.6Q359.6 168.5 360.2 170.4Q360.9 172.3 361.6 174.2Q362.3 176.1 363.1 178Q363.8 179.9 364.6 181.8Q365.4 183.7 366.4 185.5Q367.3 187.4 368.3 189.2Q369.3 191 370.5 192.7Q371.6 194.4 372.9 196Q374.2 197.6 375.6 199.1Q377 200.7 378.4 202.1Q379.8 203.6 381.3 205Q382.8 206.4 384.3 207.7Q385.8 209.1 387.3 210.4Q388.8 211.8 390.3 213.2Q391.7 214.5 393.2 215.9Q394.6 217.3 396 218.8Q397.4 220.2 398.7 221.7Q400.1 223.2 401.4 224.7Q402.7 226.2 404 227.7Q405.3 229.3 406.5 230.9Q407.7 232.4 408.9 234.1Q410.1 235.7 411.3 237.3Q412.4 239 413.5 240.6Q414.6 242.3 415.7 244Q416.8 245.7 417.8 247.4Q418.8 249.1 419.8 250.9Q420.8 252.6 421.7 254.4Q422.6 256.2 423.5 258L424.4 259.8" stroke="#444" stroke-width="0.55" />
<path d="M310 140.3L312 140.8Q314 141.3 315.9 141.7Q317.9 142.2 319.8 142.6Q321.8 143 323.8 143.4Q325.8 143.8 327.8 144.2Q329.7 144.6 331.7 145Q333.7 145.4 335.7 145.7Q337.7 146.1 339.7 146.4Q341.6 146.8 343.4 147.2Q345.1 147.7 346.6 148.3Q348.1 149 349.3 150.2Q350.5 151.3 351.5 152.8Q352.5 154.3 353.3 156Q354.2 157.8 355 159.6Q355.7 161.4 356.4 163.3Q357.1 165.1 357.7 167Q358.4 168.9 359.1 170.8Q359.7 172.7 360.4 174.7Q361.1 176.6 361.9 178.5Q362.7 180.4 363.5 182.3Q364.3 184.2 365.2 186.1Q366.2 188 367.2 189.8Q368.3 191.6 369.4 193.4Q370.6 195.1 371.9 196.8Q373.3 198.4 374.7 200Q376.1 201.5 377.5 203Q379 204.5 380.5 205.9Q382 207.3 383.5 208.6Q385 210 386.5 211.4Q387.9 212.7 389.4 214.1Q390.9 215.4 392.3 216.8Q393.7 218.2 395.1 219.6Q396.5 221.1 397.8 222.5Q399.2 224 400.5 225.5Q401.8 227 403 228.5Q404.3 230.1 405.5 231.6Q406.7 233.2 407.9 234.8Q409.1 236.4 410.2 238Q411.4 239.7 412.5 241.3Q413.6 243 414.6 244.7Q415.7 246.3 416.7 248.1Q417.7 249.8 418.7 251.5Q419.7 253.2 420.6 255Q421.5 256.8 422.4 258.5Q423.3 260.3 424.1 262.1Q425 263.9 425.8 265.8Q426.6 267.6 427.3 269.4Q428.1 271.3 428.8 273.1Q429.5 275 430.2 276.9Q430.9 278.7 431.5 280.6Q432.2 282.5 432.7 284.4Q433.3 286.3 433.9 288.2Q434.4 290.1 434.9 292.1Q435.4 294 435.9 295.9Q436.4 297.9 436.8 299.8Q437.2 301.8 437.6 303.7Q438 305.7 438.3 307.7Q438.6 309.6 438.9 311.6Q439.2 313.6 439.5 315.5Q439.7 317.5 439.9 319.5Q440.1 321.5 440.3 323.5Q440.4 325.5 440.6 327.5Q440.7 329.4 440.8 331.4Q440.8 333.4 440.9 335.4L440.9 337.4" stroke="#2c2c2c" stroke-width="0.75" />
<path d="M309.7 141.6L311.7 142Q313.6 142.5 315.6 142.9Q317.6 143.4 319.5 143.8Q321.5 144.2 323.5 144.6Q325.4 145 327.4 145.4Q329.4 145.8 331.4 146.2Q333.4 146.6 335.4 146.9Q337.4 147.3 339.3 147.6Q341.2 148 342.9 148.4Q344.6 148.8 346 149.4Q347.3 150 348.4 151Q349.5 152.1 350.4 153.5Q351.4 154.9 352.2 156.6Q353.1 158.3 353.8 160.1Q354.5 161.8 355.2 163.7Q355.9 165.5 356.6 167.4Q357.2 169.3 357.9 171.3Q358.6 173.2 359.3 175.1L360 177" stroke="#4a4a4a" stroke-width="0.6" />
<path d="M311.3 135.3Q309.7 137.8 310 140.3" stroke="#1e1e1e" stroke-width="0.8" />
<path d="M310 140.3L326.5 160.5" stroke="#1e1e1e" stroke-width="0.75" />
<path d="M311.9 140.6L328.7 159.6" stroke="#444" stroke-width="0.65" />
<path d="M312.1 156.6L314 157.2Q316 157.8 317.9 158.4Q319.8 158.9 321.7 159.5Q323.7 160 325.6 160.6Q327.6 161.1 329.5 161.7Q331.4 162.2 333.4 162.8Q335.3 163.3 337.3 163.9Q339.2 164.4 341.1 165Q343.1 165.6 344.9 166.3Q346.8 167 348.5 168.1Q350.2 169.1 351.7 170.6Q353.1 172 354.2 173.6Q355.4 175.3 356.4 177Q357.5 178.7 358.4 180.5Q359.3 182.3 360.1 184.2Q360.9 186 361.6 187.9Q362.3 189.8 362.9 191.7Q363.4 193.6 363.9 195.6Q364.5 197.5 364.9 199.5Q365.3 201.5 365.7 203.5Q366.1 205.4 366.5 207.4Q367 209.4 367.4 211.3Q367.8 213.3 368.3 215.3Q368.8 217.2 369.3 219.2Q369.9 221.1 370.6 223Q371.3 224.9 372.1 226.7Q373 228.5 373.9 230.3Q374.9 232.1 376 233.8Q377.1 235.5 378.2 237.1Q379.4 238.8 380.6 240.4Q381.8 242 383.1 243.6Q384.3 245.1 385.6 246.7Q386.8 248.3 388.1 249.9Q389.3 251.4 390.5 253Q391.8 254.6 393 256.3Q394.2 257.9 395.3 259.5Q396.5 261.2 397.6 262.9Q398.7 264.5 399.8 266.2Q400.8 268 401.8 269.7Q402.8 271.5 403.8 273.2Q404.7 275 405.6 276.8Q406.5 278.6 407.3 280.5Q408.1 282.3 408.8 284.2Q409.6 286.1 410.2 288Q410.9 289.9 411.5 291.8Q412.2 293.7 412.7 295.6Q413.3 297.6 413.8 299.5Q414.3 301.5 414.7 303.4Q415.2 305.4 415.6 307.4Q416 309.4 416.3 311.3Q416.6 313.3 416.9 315.3Q417.2 317.3 417.5 319.3Q417.7 321.3 417.9 323.3Q418.1 325.3 418.2 327.3Q418.3 329.3 418.4 331.4Q418.5 333.4 418.6 335.4L418.6 337.4" stroke="#141414" stroke-width="1.1" />
<path d="M311.7 157.8L313.7 158.4Q315.6 159 317.5 159.6Q319.5 160.1 321.4 160.7Q323.3 161.2 325.3 161.8Q327.2 162.3 329.2 162.9Q331.1 163.4 333 164Q335 164.5 336.9 165.1Q338.8 165.6 340.7 166.2Q342.6 166.8 344.5 167.5Q346.3 168.1 347.9 169.1Q349.5 170.1 350.8 171.4Q352.1 172.8 353.2 174.4Q354.4 175.9 355.4 177.6Q356.4 179.3 357.2 181.1Q358.1 182.9 358.9 184.7Q359.7 186.5 360.4 188.3Q361.1 190.2 361.7 192.1Q362.2 194 362.7 195.9Q363.2 197.8 363.7 199.8Q364.1 201.7 364.5 203.7Q364.9 205.7 365.3 207.7Q365.7 209.6 366.2 211.6Q366.6 213.6 367.1 215.6Q367.6 217.5 368.2 219.5Q368.7 221.5 369.4 223.4Q370.1 225.3 371 227.2Q371.8 229.1 372.8 230.9Q373.8 232.7 374.9 234.4Q376 236.2 377.2 237.8Q378.4 239.5 379.6 241.1Q380.8 242.7 382.1 244.3Q383.3 245.9 384.6 247.5Q385.8 249.1 387.1 250.6Q388.3 252.2 389.5 253.8Q390.8 255.4 392 257Q393.1 258.6 394.3 260.3L395.4 261.9" stroke="#444" stroke-width="0.55" />
<path d="M310.3 162.3L312.3 162.9Q314.2 163.5 316.2 164Q318.2 164.5 320.2 164.9Q322.2 165.4 324.1 165.8Q326.1 166.2 328.1 166.6Q330.1 167 332.1 167.3Q334.1 167.7 336 168.1Q338 168.4 339.9 168.8Q341.8 169.2 343.6 169.6Q345.3 170.1 346.8 170.8Q348.3 171.6 349.6 172.7Q350.9 173.8 352 175.3Q353.2 176.7 354.2 178.3Q355.2 179.9 356.1 181.7Q357 183.4 357.8 185.2Q358.6 186.9 359.2 188.8Q359.9 190.6 360.5 192.5Q361 194.3 361.5 196.2Q362 198.1 362.5 200.1Q362.9 202 363.3 204Q363.7 205.9 364.1 207.9Q364.5 209.9 364.9 211.9Q365.4 213.9 365.9 215.9Q366.4 217.9 367 219.9Q367.5 221.9 368.3 223.8Q369 225.8 369.9 227.7Q370.7 229.7 371.7 231.5Q372.8 233.3 373.9 235.1Q375 236.9 376.2 238.5Q377.4 240.2 378.6 241.9Q379.8 243.5 381.1 245.1Q382.3 246.7 383.6 248.3Q384.9 249.8 386.1 251.4Q387.3 253 388.6 254.6Q389.8 256.1 390.9 257.7Q392.1 259.3 393.3 261Q394.4 262.6 395.5 264.2Q396.6 265.9 397.6 267.6Q398.7 269.2 399.7 271Q400.6 272.7 401.6 274.4Q402.5 276.1 403.3 277.9Q404.2 279.7 405 281.5Q405.8 283.3 406.5 285.1Q407.2 287 407.9 288.8Q408.6 290.7 409.2 292.6Q409.8 294.4 410.3 296.3Q410.9 298.2 411.4 300.1Q411.9 302.1 412.3 304Q412.7 305.9 413.1 307.9Q413.5 309.8 413.8 311.8Q414.2 313.7 414.5 315.7Q414.7 317.6 415 319.6Q415.2 321.6 415.4 323.6Q415.6 325.5 415.7 327.5Q415.8 329.5 415.9 331.5Q416 333.5 416.1 335.5L416.1 337.5" stroke="#2c2c2c" stroke-width="0.75" />
<path d="M310 163.5L311.9 164.1Q313.9 164.7 315.9 165.2Q317.8 165.7 319.8 166.1Q321.8 166.6 323.8 167Q325.8 167.4 327.8 167.8Q329.8 168.2 331.7 168.6Q333.7 168.9 335.7 169.3Q337.7 169.6 339.5 170Q341.4 170.4 343.1 170.8Q344.7 171.2 346.1 171.9Q347.5 172.5 348.7 173.6Q349.9 174.6 351 176Q352.1 177.4 353.1 179Q354.1 180.5 355 182.2Q355.9 183.9 356.6 185.7Q357.4 187.4 358.1 189.2Q358.7 191 359.3 192.8Q359.8 194.7 360.3 196.5L360.8 198.4" stroke="#4a4a4a" stroke-width="0.6" />
<path d="M312.1 156.6Q310.5 159.5 310.3 162.3" stroke="#1e1e1e" stroke-width="0.8" />
<path d="M310.3 162.3L333.5 192" stroke="#1e1e1e" stroke-width="0.75" />
<path d="M312.2 162.6L335.7 191.1" stroke="#444" stroke-width="0.65" />
<path d="M312.7 186.3L314.7 186.8Q316.6 187.3 318.6 187.8Q320.5 188.2 322.5 188.7Q324.5 189.2 326.4 189.7Q328.4 190.2 330.3 190.8Q332.3 191.3 334.2 192Q336.1 192.7 338 193.4Q339.8 194.2 341.6 195.1Q343.4 196.1 345.1 197.2Q346.8 198.3 348.3 199.7Q349.8 201 351 202.6Q352.3 204.1 353.4 205.8Q354.5 207.5 355.4 209.4Q356.3 211.2 357 213.1Q357.7 214.9 358.3 216.9Q358.9 218.8 359.4 220.8Q359.9 222.7 360.3 224.7Q360.7 226.7 361 228.7Q361.4 230.7 361.7 232.7Q362 234.7 362.3 236.7Q362.6 238.7 362.9 240.7Q363.2 242.7 363.6 244.6Q364 246.6 364.4 248.6Q364.8 250.6 365.2 252.6Q365.6 254.5 366.1 256.5Q366.6 258.5 367.1 260.4Q367.5 262.4 368.1 264.3Q368.6 266.3 369.1 268.3Q369.6 270.2 370.1 272.2Q370.7 274.1 371.2 276.1Q371.7 278 372.3 280Q372.8 281.9 373.3 283.9Q373.9 285.8 374.4 287.8Q374.9 289.7 375.4 291.7Q376 293.6 376.5 295.6Q376.9 297.5 377.4 299.5Q377.9 301.5 378.4 303.4Q378.8 305.4 379.2 307.4Q379.6 309.4 380 311.3Q380.4 313.3 380.8 315.3Q381.1 317.3 381.4 319.3Q381.7 321.3 381.9 323.3Q382.2 325.3 382.4 327.3Q382.6 329.3 382.7 331.3Q382.9 333.4 382.9 335.4L383 337.4" stroke="#141414" stroke-width="1.1" />
<path d="M312.4 187.5L314.4 188Q316.3 188.5 318.3 189Q320.3 189.4 322.2 189.9Q324.2 190.4 326.1 190.9Q328.1 191.4 330 192Q331.9 192.5 333.8 193.2Q335.6 193.8 337.5 194.6Q339.3 195.3 341 196.2Q342.8 197.2 344.4 198.2Q346 199.3 347.4 200.6Q348.9 201.9 350.1 203.4Q351.3 204.9 352.4 206.5Q353.4 208.2 354.3 209.9Q355.1 211.7 355.8 213.5Q356.5 215.4 357.1 217.3Q357.7 219.1 358.2 221.1Q358.7 223 359.1 225Q359.5 226.9 359.8 228.9Q360.1 230.9 360.4 232.9Q360.8 234.9 361.1 236.9Q361.4 238.9 361.7 240.9Q362 242.9 362.4 244.9Q362.7 246.9 363.1 248.9Q363.6 250.8 364 252.8Q364.4 254.8 364.9 256.8Q365.4 258.8 365.8 260.7Q366.3 262.7 366.8 264.7Q367.3 266.6 367.9 268.6Q368.4 270.5 368.9 272.5Q369.5 274.4 370 276.4Q370.5 278.3 371.1 280.3Q371.6 282.2 372.1 284.2Q372.7 286.1 373.2 288.1Q373.7 290 374.2 292Q374.7 293.9 375.2 295.9L375.7 297.8" stroke="#444" stroke-width="0.55" />
<path d="M310.9 193.6L312.9 194Q314.8 194.5 316.8 194.9Q318.9 195.3 320.8 195.6Q322.8 196 324.7 196.3Q326.6 196.6 328.5 197Q330.3 197.3 332.2 197.8Q334 198.2 335.7 198.7Q337.5 199.2 339.2 199.8Q340.8 200.4 342.4 201.2Q343.9 202 345.3 203Q346.7 204 347.9 205.2Q349.1 206.5 350.2 207.9Q351.2 209.4 352.1 211Q352.9 212.6 353.6 214.4Q354.3 216.1 354.9 218Q355.4 219.8 355.9 221.7Q356.4 223.5 356.8 225.4Q357.1 227.4 357.5 229.3Q357.8 231.3 358.1 233.2Q358.4 235.2 358.7 237.2Q359 239.2 359.4 241.2Q359.7 243.3 360.1 245.3Q360.4 247.3 360.8 249.3Q361.3 251.3 361.7 253.3Q362.1 255.3 362.6 257.3Q363.1 259.3 363.6 261.3Q364.1 263.3 364.6 265.2Q365.1 267.2 365.6 269.2Q366.1 271.1 366.7 273.1Q367.2 275.1 367.7 277Q368.3 279 368.8 280.9Q369.3 282.9 369.9 284.8Q370.4 286.7 370.9 288.7Q371.4 290.6 372 292.6Q372.5 294.5 373 296.5Q373.5 298.4 373.9 300.3Q374.4 302.3 374.8 304.2Q375.3 306.2 375.7 308.1Q376.1 310.1 376.5 312Q376.9 314 377.2 315.9Q377.5 317.9 377.8 319.8Q378.1 321.8 378.4 323.7Q378.6 325.7 378.8 327.7Q379 329.6 379.1 331.6Q379.3 333.6 379.3 335.5L379.4 337.5" stroke="#2c2c2c" stroke-width="0.75" />
<path d="M310.6 194.8L312.5 195.3Q314.5 195.7 316.6 196.1Q318.6 196.5 320.5 196.9Q322.5 197.2 324.4 197.5Q326.3 197.8 328.1 198.2Q330 198.5 331.8 198.9Q333.5 199.3 335.3 199.8Q337 200.3 338.6 200.9Q340.2 201.5 341.7 202.2Q343.1 203 344.5 203.9Q345.8 204.9 346.9 206Q348.1 207.2 349.1 208.6Q350.1 210 351 211.6Q351.8 213.1 352.5 214.8Q353.1 216.5 353.7 218.3Q354.2 220.1 354.7 222Q355.1 223.8 355.5 225.7Q355.9 227.6 356.2 229.5L356.6 231.5" stroke="#4a4a4a" stroke-width="0.6" />
<path d="M312.7 186.3Q311.1 189.9 310.9 193.6" stroke="#1e1e1e" stroke-width="0.8" />
<path d="M310.9 193.6L335.5 232" stroke="#1e1e1e" stroke-width="0.75" />
<path d="M312.8 193.9L337.7 231.1" stroke="#444" stroke-width="0.65" />
<path d="M312.7 226L314.6 226.8Q316.5 227.5 318.5 228.2Q320.4 228.8 322.4 229.5Q324.3 230.1 326.3 230.7Q328.2 231.4 330.1 232.1Q332 232.9 333.9 233.7Q335.8 234.6 337.5 235.7Q339.3 236.7 340.9 238Q342.5 239.3 343.9 240.8Q345.3 242.3 346.5 243.9Q347.8 245.6 348.8 247.3Q349.9 249.1 350.8 250.9Q351.8 252.7 352.6 254.6Q353.4 256.5 354.1 258.4Q354.8 260.3 355.5 262.3Q356.1 264.2 356.7 266.2Q357.3 268.1 357.9 270.1Q358.4 272.1 358.8 274.1Q359.3 276.1 359.7 278.1Q360.1 280.1 360.5 282.2Q360.9 284.2 361.2 286.2Q361.5 288.2 361.8 290.3Q362 292.3 362.3 294.3Q362.5 296.4 362.7 298.4Q362.9 300.5 363 302.5Q363.2 304.6 363.3 306.6Q363.4 308.7 363.5 310.7Q363.6 312.8 363.7 314.8Q363.7 316.9 363.8 318.9Q363.8 321 363.9 323Q363.9 325.1 363.9 327.1Q364 329.2 364 331.2Q364 333.3 364 335.3L364 337.4" stroke="#141414" stroke-width="1.1" />
<path d="M312.2 227.2L314.2 227.9Q316.1 228.7 318 229.4Q320 230 322 230.7Q323.9 231.3 325.9 231.9Q327.8 232.6 329.7 233.3Q331.6 234 333.4 234.9Q335.2 235.7 336.9 236.7Q338.6 237.7 340.1 239Q341.6 240.2 343 241.6Q344.3 243.1 345.5 244.7Q346.7 246.3 347.8 248Q348.8 249.7 349.7 251.5Q350.6 253.2 351.4 255.1Q352.2 256.9 352.9 258.8Q353.7 260.7 354.3 262.7Q355 264.6 355.5 266.5Q356.1 268.5 356.6 270.5Q357.2 272.4 357.6 274.4Q358.1 276.4 358.5 278.4Q358.9 280.4 359.3 282.4Q359.6 284.4 359.9 286.4L360.3 288.4" stroke="#444" stroke-width="0.55" />
<path d="M309.7 233.4L311.8 234.2Q313.8 235 315.9 235.6Q318 236.2 320 236.7Q322 237.1 323.9 237.6Q325.8 238 327.7 238.4Q329.5 238.9 331.2 239.4Q332.9 239.9 334.5 240.6Q336.1 241.3 337.6 242.1Q339 243 340.4 244.1Q341.8 245.2 343.1 246.5Q344.3 247.9 345.5 249.4Q346.6 250.9 347.6 252.6Q348.6 254.2 349.4 256Q350.2 257.8 350.9 259.6Q351.6 261.5 352.3 263.4Q352.9 265.2 353.5 267.2Q354.1 269.1 354.6 271Q355.1 272.9 355.5 274.9Q356 276.8 356.4 278.8Q356.8 280.8 357.2 282.8Q357.5 284.7 357.8 286.7Q358.1 288.7 358.4 290.7Q358.7 292.7 358.9 294.7Q359.1 296.7 359.3 298.7Q359.5 300.8 359.6 302.8Q359.8 304.8 359.9 306.8Q360 308.8 360.1 310.9Q360.2 312.9 360.3 314.9Q360.3 317 360.4 319Q360.4 321 360.5 323.1Q360.5 325.1 360.5 327.2Q360.6 329.2 360.6 331.3Q360.6 333.3 360.6 335.4L360.6 337.4" stroke="#2c2c2c" stroke-width="0.75" />
<path d="M309.3 234.6L311.3 235.4Q313.3 236.1 315.5 236.7Q317.6 237.4 319.6 237.8Q321.6 238.3 323.5 238.8Q325.4 239.2 327.2 239.6Q329 240 330.7 240.5Q332.3 241 333.8 241.7Q335.4 242.3 336.8 243.1Q338.2 243.9 339.5 245Q340.9 246 342.1 247.3Q343.3 248.6 344.4 250Q345.5 251.5 346.5 253.1Q347.4 254.8 348.2 256.5Q349.1 258.2 349.8 260.1Q350.5 261.9 351.1 263.8Q351.7 265.6 352.3 267.5Q352.8 269.4 353.4 271.3Q353.9 273.2 354.3 275.2L354.8 277.1" stroke="#4a4a4a" stroke-width="0.6" />
<path d="M312.7 226Q311.1 229.7 309.7 233.4" stroke="#1e1e1e" stroke-width="0.8" />
<path d="M311.7 235L312.8 236.7Q313.8 238.4 314.7 240.3Q315.6 242.1 316.3 244Q317 245.9 317.6 247.8Q318.2 249.7 318.6 251.7Q319.1 253.7 319.5 255.6Q319.9 257.6 320.3 259.6Q320.7 261.6 321.1 263.6Q321.5 265.5 321.9 267.5Q322.4 269.5 322.9 271.4Q323.4 273.4 323.9 275.3Q324.5 277.3 325 279.2Q325.5 281.2 326 283.1Q326.5 285.1 326.9 287.1Q327.3 289.1 327.7 291.1Q328 293 328.3 295Q328.5 297.1 328.7 299.1Q328.9 301.1 329.1 303.1Q329.3 305.1 329.4 307.1Q329.5 309.1 329.6 311.1Q329.7 313.2 329.7 315.2Q329.8 317.2 329.8 319.2Q329.8 321.2 329.8 323.3Q329.8 325.3 329.7 327.3Q329.7 329.3 329.6 331.3Q329.5 333.4 329.4 335.4L329.3 337.4" stroke="#141414" stroke-width="1.0" />
<path d="M309.1 236.6L310.2 238.2Q311.2 239.9 312 241.6Q312.8 243.3 313.5 245Q314.2 246.8 314.7 248.7Q315.3 250.5 315.7 252.4Q316.2 254.3 316.6 256.3Q317 258.2 317.4 260.2Q317.8 262.2 318.2 264.2Q318.6 266.1 319 268.2Q319.5 270.2 320 272.2Q320.5 274.2 321 276.1Q321.6 278.1 322.1 280Q322.6 281.9 323.1 283.9Q323.6 285.8 324 287.7Q324.4 289.6 324.7 291.5Q325 293.5 325.3 295.4Q325.5 297.4 325.7 299.4Q325.9 301.3 326.1 303.3Q326.3 305.3 326.4 307.3Q326.5 309.3 326.6 311.3Q326.7 313.3 326.7 315.3Q326.8 317.3 326.8 319.3Q326.8 321.2 326.8 323.2Q326.8 325.2 326.7 327.2Q326.7 329.2 326.6 331.2Q326.5 333.2 326.4 335.2L326.3 337.2" stroke="#2c2c2c" stroke-width="0.75" />
<path d="M312.2 233.8L311.7 235" stroke="#1e1e1e" stroke-width="0.7" />
<path d="M302.5 87.5L306 96.5" stroke="#1e1e1e" stroke-width="0.75" />
<path d="M304 88.2L311.3 100.5" stroke="#444" stroke-width="0.65" />
<path d="M322.8 100.2L327 101L326.6 104.4L322.4 103.6Z" stroke="#333" stroke-width="0.7" />
<path d="M324 109.3L323.6 113.8" stroke="#333" stroke-width="0.8" />
<path d="M343 114.2L342.6 116.8" stroke="#444" stroke-width="0.7" />
<path d="M365 113.5L367.8 113.2L368.6 121.5" stroke="#777" stroke-width="0.7" />
<path d="M387.4 143.3L386.6 146.2" stroke="#444" stroke-width="0.7" />
<path d="M386.6 166L385.8 168.8" stroke="#444" stroke-width="0.7" />
<path d="M429.5 171.6L431 170.6" stroke="#444" stroke-width="0.7" />
<path d="M382.6 329.8C385.5 331.5 387.2 334.5 387 338C386.8 341.5 385 344.5 382.8 346" stroke="#333" stroke-width="0.7" />
<path d="M383.4 334.5C385 336 385 340 383.4 342" stroke="#555" stroke-width="0.55" />
<path d="M454.4 428.7L453.4 430.5Q452.5 432.3 451.8 434.2Q451.2 436.1 450.9 438.1Q450.5 440.1 450.4 442.1Q450.3 444.2 450.4 446.2Q450.4 448.2 450.5 450.3Q450.6 452.3 450.7 454.3Q450.7 456.4 450.7 458.4Q450.7 460.4 450.5 462.4Q450.4 464.5 450.1 466.5Q449.9 468.5 449.4 470.5Q449 472.5 448.5 474.4Q447.9 476.4 447.2 478.3Q446.5 480.2 445.6 482Q444.8 483.9 443.8 485.6Q442.8 487.4 441.6 489.1Q440.5 490.8 439.3 492.4Q438 494 436.7 495.5Q435.4 497.1 434 498.6Q432.6 500 431.2 501.5Q429.7 502.9 428.2 504.3Q426.8 505.6 425.2 507Q423.7 508.3 422.1 509.6Q420.6 510.9 419 512.2Q417.5 513.5 415.9 514.8Q414.3 516.1 412.7 517.4Q411.1 518.6 409.6 519.9Q408 521.2 406.4 522.5Q404.8 523.7 403.2 525Q401.6 526.2 400 527.4Q398.3 528.6 396.6 529.7Q394.9 530.7 393.1 531.7Q391.3 532.7 389.4 533.5Q387.6 534.4 385.8 535.3Q384 536.2 382.2 537.2Q380.4 538.2 378.8 539.4Q377.2 540.6 375.8 542.1Q374.4 543.5 373.2 545.2Q372 546.9 371.1 548.7Q370.2 550.5 369.4 552.4Q368.6 554.2 367.9 556.1Q367.2 558 366.5 559.9Q365.7 561.8 364.9 563.7Q364 565.5 363 567.3Q362 569 360.7 570.6Q359.4 572.2 358 573.6Q356.6 575 355 576.3Q353.4 577.6 351.7 578.6Q349.9 579.7 348.1 580.6Q346.3 581.5 344.4 582.2Q342.5 582.9 340.5 583.5Q338.6 584 336.6 584.4Q334.6 584.7 332.6 585Q330.6 585.2 328.5 585.4Q326.5 585.6 324.5 585.7Q322.4 585.8 320.4 585.8Q318.4 585.9 316.4 585.9Q314.3 586 312.3 586Q310.3 586.1 308.2 586.2Q306.2 586.4 304.2 586.5Q302.2 586.7 300.2 587.1Q298.2 587.4 296.2 587.8L294.2 588.3" stroke="#141414" stroke-width="1.1" />
<path d="M451.9 452.2L452 454.3Q452.1 456.3 452.1 458.4Q452 460.5 451.9 462.5Q451.7 464.6 451.5 466.7Q451.2 468.7 450.8 470.8Q450.4 472.8 449.8 474.8Q449.2 476.8 448.5 478.8Q447.8 480.7 446.9 482.6Q446 484.5 444.9 486.3Q443.9 488.1 442.8 489.8Q441.6 491.5 440.4 493.2Q439.1 494.8 437.8 496.4Q436.4 498 435 499.5Q433.6 501 432.1 502.4Q430.7 503.9 429.2 505.3Q427.7 506.6 426.1 508Q424.6 509.3 423 510.7Q421.5 512 419.9 513.3Q418.3 514.6 416.7 515.8Q415.1 517.1 413.6 518.4Q412 519.7 410.4 521Q408.8 522.2 407.3 523.5Q405.7 524.8 404 526.1Q402.4 527.3 400.7 528.5Q399.1 529.7 397.3 530.8Q395.5 531.9 393.7 532.9Q391.9 533.9 390 534.7Q388.2 535.6 386.4 536.5Q384.6 537.4 382.9 538.3Q381.2 539.3 379.6 540.5Q378.1 541.7 376.7 543Q375.4 544.4 374.3 546Q373.2 547.6 372.3 549.3Q371.4 551 370.7 552.9Q369.9 554.7 369.2 556.6Q368.5 558.5 367.7 560.4Q367 562.4 366.1 564.2Q365.2 566.1 364.1 568Q363.1 569.8 361.8 571.4Q360.5 573.1 359 574.6Q357.5 576.1 355.8 577.4Q354.2 578.7 352.4 579.8Q350.6 580.9 348.7 581.8Q346.8 582.8 344.9 583.5Q342.9 584.2 340.9 584.8Q338.9 585.3 336.8 585.7Q334.8 586.1 332.7 586.3Q330.7 586.6 328.6 586.8Q326.6 586.9 324.5 587Q322.5 587.1 320.5 587.2Q318.4 587.2 316.4 587.3Q314.4 587.3 312.3 587.4Q310.3 587.5 308.3 587.6Q306.3 587.7 304.3 587.9Q302.3 588.1 300.4 588.4Q298.4 588.7 296.5 589.2L294.5 589.6" stroke="#3a3a3a" stroke-width="0.65" />
<path d="M419.2 515.6L417.6 516.9Q416 518.2 414.4 519.5Q412.8 520.7 411.3 522Q409.7 523.3 408.1 524.6Q406.5 525.9 404.9 527.1Q403.2 528.4 401.5 529.6Q399.8 530.8 398 532Q396.2 533.1 394.4 534.1Q392.5 535.1 390.6 535.9Q388.8 536.8 387 537.7Q385.2 538.6 383.6 539.5Q381.9 540.5 380.5 541.6Q379 542.7 377.7 544Q376.4 545.3 375.4 546.8Q374.3 548.3 373.5 549.9Q372.6 551.6 371.9 553.4Q371.2 555.2 370.4 557.1Q369.7 559 369 560.9Q368.2 562.9 367.3 564.8Q366.4 566.8 365.3 568.6Q364.2 570.5 362.8 572.3Q361.5 574 359.9 575.5Q358.4 577.1 356.6 578.4Q354.9 579.8 353.1 580.9Q351.3 582.1 349.3 583Q347.4 584 345.3 584.8Q343.3 585.5 341.2 586.1Q339.2 586.6 337.1 587Q335 587.4 332.9 587.7Q330.8 587.9 328.7 588.1Q326.7 588.3 324.6 588.4Q322.5 588.4 320.5 588.5Q318.5 588.6 316.4 588.6Q314.4 588.7 312.4 588.7Q310.4 588.8 308.4 588.9Q306.4 589 304.5 589.2Q302.5 589.4 300.6 589.7Q298.7 590 296.7 590.5L294.8 590.9" stroke="#555" stroke-width="0.55" />
<path d="M450 426.3L449.8 428.3Q449.7 430.3 449.6 432.3Q449.5 434.4 449.3 436.4Q449.2 438.4 449.1 440.4Q449 442.4 448.8 444.4Q448.7 446.4 448.5 448.4Q448.3 450.5 448.1 452.5Q447.9 454.5 447.7 456.5Q447.4 458.5 447.1 460.5Q446.7 462.5 446.3 464.4Q445.9 466.4 445.4 468.4Q444.9 470.3 444.3 472.2Q443.7 474.2 443 476Q442.3 477.9 441.4 479.7Q440.5 481.6 439.5 483.3Q438.5 485.1 437.4 486.7Q436.2 488.4 434.9 489.9Q433.6 491.5 432.2 492.9Q430.8 494.4 429.4 495.8Q427.9 497.1 426.4 498.4Q424.8 499.8 423.3 501Q421.7 502.3 420.1 503.6Q418.5 504.8 416.9 506Q415.3 507.3 413.7 508.5Q412.1 509.7 410.5 510.9Q408.9 512.1 407.3 513.3Q405.6 514.5 404 515.7Q402.3 516.8 400.7 518Q399 519.1 397.3 520.2Q395.6 521.3 393.9 522.4Q392.2 523.5 390.5 524.5Q388.8 525.6 387 526.6Q385.3 527.6 383.6 528.7Q381.8 529.7 380.2 530.9Q378.6 532.1 377.1 533.5Q375.7 534.9 374.6 536.6Q373.4 538.2 372.5 540Q371.6 541.8 370.9 543.7Q370.1 545.6 369.4 547.5Q368.8 549.4 368.1 551.3Q367.5 553.2 366.8 555.1Q366.1 557 365.3 558.8Q364.4 560.7 363.4 562.4Q362.4 564.1 361.1 565.7Q359.8 567.2 358.2 568.5Q356.7 569.8 355 570.9Q353.3 572 351.5 572.9Q349.7 573.8 347.8 574.6Q345.9 575.3 344 575.9Q342.1 576.5 340.1 577Q338.2 577.5 336.2 577.9Q334.2 578.3 332.2 578.7Q330.2 579 328.2 579.2Q326.2 579.5 324.2 579.7Q322.2 579.9 320.2 580.1Q318.2 580.3 316.2 580.5Q314.2 580.7 312.2 580.9Q310.2 581.1 308.2 581.3Q306.2 581.5 304.2 581.8Q302.2 582.1 300.2 582.4Q298.2 582.7 296.2 583L294.2 583.3" stroke="#141414" stroke-width="1.0" />
<path d="M448 462.7L447.6 464.7Q447.2 466.7 446.7 468.7Q446.2 470.7 445.6 472.6Q444.9 474.6 444.2 476.5Q443.5 478.4 442.6 480.3Q441.7 482.2 440.7 484Q439.6 485.8 438.4 487.5Q437.3 489.2 435.9 490.8Q434.6 492.3 433.2 493.8Q431.8 495.3 430.3 496.7Q428.8 498.1 427.2 499.4Q425.7 500.8 424.1 502Q422.5 503.3 420.9 504.6Q419.3 505.8 417.7 507.1Q416.1 508.3 414.5 509.5Q412.9 510.8 411.3 512Q409.7 513.2 408 514.4Q406.4 515.6 404.7 516.7Q403.1 517.9 401.4 519Q399.7 520.2 398 521.3Q396.3 522.4 394.6 523.5Q392.9 524.6 391.2 525.6Q389.4 526.7 387.7 527.7Q386 528.8 384.3 529.8Q382.6 530.8 381 532Q379.4 533.1 378.1 534.4Q376.7 535.8 375.6 537.3Q374.5 538.9 373.7 540.6Q372.8 542.4 372.1 544.2Q371.3 546 370.7 547.9Q370 549.8 369.4 551.7Q368.7 553.7 368 555.6Q367.3 557.5 366.4 559.4Q365.6 561.3 364.5 563.1Q363.4 564.9 362 566.5Q360.7 568.1 359.1 569.5Q357.5 570.9 355.7 572Q354 573.2 352.1 574.1Q350.2 575 348.3 575.8Q346.4 576.5 344.4 577.2Q342.5 577.8 340.5 578.3Q338.5 578.8 336.5 579.2Q334.5 579.6 332.5 579.9Q330.4 580.3 328.4 580.5Q326.4 580.8 324.4 581Q322.4 581.2 320.4 581.4Q318.3 581.6 316.3 581.8Q314.3 582 312.3 582.2Q310.3 582.4 308.3 582.6Q306.3 582.8 304.3 583.1Q302.4 583.4 300.4 583.6Q298.4 583.9 296.4 584.3L294.4 584.6" stroke="#3a3a3a" stroke-width="0.65" />
<path d="M449.9 409.8L449.9 411.8Q449.8 413.8 449.8 415.8Q449.7 417.8 449.6 419.8Q449.6 421.8 449.5 423.8Q449.4 425.8 449.3 427.8Q449.1 429.8 449 431.8Q448.8 433.8 448.6 435.8Q448.4 437.8 448.1 439.8Q447.8 441.7 447.5 443.7Q447.2 445.7 446.8 447.7Q446.4 449.6 446 451.6Q445.5 453.5 444.9 455.4Q444.4 457.4 443.7 459.3Q443.1 461.1 442.3 463Q441.6 464.9 440.7 466.7Q439.9 468.5 438.9 470.2Q438 472 436.9 473.7Q435.8 475.4 434.6 477Q433.4 478.6 432.1 480.1Q430.7 481.5 429.3 482.9Q427.8 484.2 426.2 485.4Q424.6 486.7 423 487.8Q421.3 489 419.7 490.1Q418 491.3 416.5 492.5Q414.9 493.7 413.3 495Q411.8 496.3 410.3 497.6Q408.8 499 407.3 500.3Q405.8 501.6 404.3 502.9Q402.8 504.2 401.2 505.5Q399.7 506.7 398 507.9Q396.4 509 394.7 510.1Q393 511.2 391.4 512.3Q389.7 513.4 388 514.5Q386.3 515.5 384.7 516.7Q383 517.8 381.4 519Q379.9 520.3 378.4 521.6Q376.9 523 375.6 524.5Q374.4 526.1 373.3 527.8Q372.3 529.5 371.5 531.3Q370.7 533.2 370.1 535.1Q369.4 536.9 368.9 538.9Q368.3 540.8 367.8 542.7Q367.3 544.7 366.7 546.6Q366.2 548.5 365.5 550.4Q364.9 552.3 364.1 554.1Q363.3 556 362.3 557.7Q361.3 559.4 360.1 561Q358.8 562.5 357.3 563.9Q355.8 565.2 354.1 566.3Q352.5 567.4 350.7 568.4Q348.9 569.3 347.1 570.1Q345.2 570.8 343.3 571.5Q341.5 572.1 339.5 572.6Q337.6 573.2 335.6 573.6Q333.7 574 331.7 574.4Q329.7 574.7 327.7 575Q325.8 575.2 323.8 575.4Q321.8 575.6 319.8 575.8Q317.8 575.9 315.8 576Q313.8 576.2 311.8 576.3Q309.8 576.5 307.8 576.8Q305.8 577.1 303.9 577.5Q301.9 577.9 300 578.4Q298 578.9 296.1 579.4L294.2 580" stroke="#141414" stroke-width="1.1" />
<path d="M446 445.5L445.6 447.4Q445.2 449.4 444.7 451.3Q444.3 453.2 443.7 455.1Q443.2 457 442.6 458.8Q441.9 460.7 441.2 462.5Q440.5 464.4 439.6 466.1Q438.8 467.9 437.8 469.6Q436.9 471.4 435.8 473Q434.8 474.7 433.6 476.2Q432.4 477.8 431.1 479.2Q429.9 480.7 428.4 482Q427 483.3 425.4 484.5Q423.9 485.7 422.2 486.8Q420.6 487.9 418.9 489.1Q417.3 490.3 415.7 491.5Q414.1 492.7 412.5 494Q411 495.4 409.5 496.7Q408 498 406.5 499.4Q405 500.7 403.5 502Q402 503.3 400.5 504.5Q398.9 505.7 397.3 506.9Q395.7 508 394 509.1Q392.4 510.2 390.7 511.2Q389 512.3 387.3 513.4Q385.6 514.5 383.9 515.7Q382.3 516.8 380.7 518.1Q379 519.3 377.5 520.7Q376 522.1 374.7 523.7Q373.3 525.3 372.3 527.1Q371.2 528.9 370.4 530.8Q369.5 532.7 368.9 534.6Q368.2 536.6 367.7 538.5Q367.1 540.5 366.6 542.4Q366.1 544.3 365.5 546.2Q365 548.1 364.4 550Q363.7 551.9 363 553.6Q362.2 555.4 361.3 557.1Q360.3 558.7 359.1 560.2Q357.9 561.7 356.4 562.9Q355 564.2 353.4 565.3Q351.8 566.3 350.1 567.3Q348.4 568.2 346.6 568.9Q344.8 569.7 342.9 570.3Q341.1 570.9 339.2 571.4Q337.3 572 335.4 572.4Q333.4 572.8 331.5 573.1Q329.5 573.5 327.6 573.7Q325.6 574 323.6 574.2Q321.7 574.4 319.7 574.5Q317.7 574.6 315.7 574.8Q313.7 574.9 311.7 575.1Q309.7 575.3 307.6 575.6Q305.6 575.9 303.6 576.3Q301.6 576.7 299.7 577.2Q297.7 577.7 295.8 578.2L293.8 578.8" stroke="#444" stroke-width="0.55" />
<path d="M447.3 425.7L447.2 427.7Q447 429.7 446.9 431.6Q446.7 433.6 446.5 435.6Q446.3 437.5 446 439.5Q445.8 441.4 445.5 443.4Q445.1 445.3 444.8 447.2Q444.4 449.2 443.9 451.1Q443.5 453 442.9 454.9Q442.4 456.7 441.7 458.6Q441.1 460.4 440.4 462.2Q439.7 464 438.8 465.8Q438 467.5 437.1 469.2Q436.2 470.9 435.1 472.5Q434.1 474.2 432.9 475.7Q431.8 477.2 430.5 478.7Q429.2 480.1 427.8 481.3Q426.4 482.6 424.9 483.8Q423.4 485 421.7 486.1Q420.1 487.2 418.5 488.4Q416.8 489.6 415.2 490.8Q413.6 492.1 412 493.4Q410.4 494.7 408.9 496.1Q407.4 497.4 405.9 498.7Q404.5 500 403 501.3Q401.5 502.6 399.9 503.8Q398.4 505 396.8 506.2Q395.2 507.3 393.6 508.4Q391.9 509.5 390.2 510.5Q388.5 511.6 386.8 512.7Q385.1 513.8 383.5 515Q381.8 516.1 380.1 517.4Q378.5 518.7 376.9 520.1Q375.4 521.5 374 523.2Q372.6 524.8 371.5 526.7Q370.4 528.5 369.6 530.5Q368.7 532.4 368.1 534.4Q367.4 536.3 366.9 538.3Q366.3 540.2 365.8 542.2Q365.3 544.1 364.7 546Q364.2 547.9 363.6 549.7Q362.9 551.6 362.2 553.3Q361.5 555 360.5 556.6Q359.6 558.2 358.4 559.7Q357.3 561.1 355.9 562.3Q354.5 563.5 352.9 564.6Q351.4 565.6 349.7 566.5Q348 567.4 346.2 568.1Q344.5 568.8 342.6 569.4Q340.8 570 338.9 570.4Q337 570.9 335.1 571.2Q333.2 571.6 331.3 571.9Q329.3 572.1 327.4 572.3Q325.5 572.5 323.5 572.7Q321.5 572.8 319.6 572.9Q317.6 572.9 315.6 573Q313.5 573.1 311.5 573.2Q309.4 573.4 307.4 573.6Q305.3 573.9 303.2 574.3Q301.2 574.6 299.2 575.1Q297.1 575.6 295.2 576.2L293.2 576.7" stroke="#2c2c2c" stroke-width="0.75" />
<path d="M355.3 564.5L353.6 565.6Q352 566.7 350.3 567.6Q348.6 568.5 346.7 569.2Q344.9 570 343 570.6Q341.2 571.1 339.2 571.6Q337.3 572.1 335.4 572.5Q333.4 572.8 331.5 573.1Q329.5 573.4 327.6 573.6Q325.6 573.8 323.6 573.9Q321.6 574 319.7 574.1Q317.7 574.2 315.7 574.3Q313.6 574.3 311.6 574.5Q309.6 574.6 307.5 574.9Q305.5 575.1 303.5 575.5Q301.5 575.8 299.5 576.3Q297.5 576.8 295.5 577.4L293.6 577.9" stroke="#4a4a4a" stroke-width="0.6" />
<path d="M447.5 385.8L447.5 387.9Q447.5 389.9 447.5 391.9Q447.5 393.9 447.5 395.9Q447.5 398 447.4 400Q447.4 402 447.3 404Q447.3 406 447.2 408Q447.1 410.1 446.9 412.1Q446.8 414.1 446.6 416.1Q446.5 418.1 446.2 420.1Q446 422.1 445.8 424.1Q445.5 426.1 445.2 428.1Q444.9 430.1 444.6 432.1Q444.2 434.1 443.8 436.1Q443.4 438.1 442.9 440Q442.5 442 441.9 443.9Q441.3 445.9 440.7 447.8Q440 449.7 439.2 451.5Q438.4 453.4 437.5 455.2Q436.6 457 435.6 458.7Q434.6 460.5 433.4 462.1Q432.2 463.7 430.9 465.3Q429.6 466.8 428.3 468.3Q426.9 469.8 425.5 471.3Q424.1 472.7 422.7 474.1Q421.2 475.6 419.8 477Q418.4 478.5 417 479.9Q415.6 481.4 414.2 482.8Q412.8 484.3 411.4 485.7Q410 487.1 408.5 488.6Q407.1 490 405.6 491.4Q404.2 492.8 402.7 494.1Q401.2 495.5 399.6 496.8Q398.1 498.1 396.5 499.4Q395 500.6 393.4 501.9Q391.7 503.1 390.1 504.2Q388.4 505.4 386.7 506.5Q385 507.6 383.4 508.7Q381.7 509.8 380.1 511Q378.5 512.2 377 513.6Q375.6 515 374.3 516.6Q373.1 518.2 372 519.9Q371 521.7 370.1 523.5Q369.2 525.3 368.4 527.1Q367.6 529 367 530.9Q366.3 532.8 365.7 534.8Q365.1 536.7 364.5 538.6Q363.9 540.5 363.2 542.4Q362.5 544.3 361.7 546.2Q360.8 548 359.7 549.7Q358.6 551.4 357.2 552.8Q355.9 554.3 354.3 555.6Q352.7 556.8 351 557.9Q349.3 558.9 347.4 559.8Q345.6 560.6 343.7 561.3Q341.8 562 339.9 562.5Q337.9 563 335.9 563.4Q333.9 563.8 331.9 564Q329.9 564.3 327.9 564.5Q325.9 564.8 323.9 564.9Q321.9 565.1 319.9 565.3Q317.9 565.4 315.9 565.6Q313.9 565.8 311.8 566Q309.8 566.2 307.8 566.5Q305.8 566.8 303.9 567.1Q301.9 567.5 299.9 568.1Q298 568.6 296.1 569.3L294.2 570" stroke="#141414" stroke-width="1.1" />
<path d="M443 433.9L442.6 435.8Q442.2 437.8 441.7 439.7Q441.3 441.7 440.7 443.6Q440.1 445.5 439.5 447.3Q438.8 449.2 438.1 451Q437.3 452.9 436.4 454.6Q435.5 456.4 434.5 458.1Q433.5 459.8 432.4 461.4Q431.2 463 429.9 464.5Q428.7 466 427.3 467.5Q426 469 424.6 470.4Q423.2 471.8 421.8 473.3Q420.4 474.7 418.9 476.2Q417.5 477.6 416.1 479.1Q414.7 480.5 413.3 481.9Q411.9 483.4 410.5 484.8Q409.1 486.3 407.6 487.7Q406.2 489.1 404.8 490.5Q403.3 491.8 401.8 493.2Q400.3 494.5 398.8 495.8Q397.3 497.1 395.8 498.4Q394.2 499.7 392.6 500.9Q391 502.1 389.4 503.2Q387.7 504.3 386 505.4Q384.4 506.5 382.6 507.6Q380.9 508.8 379.3 510Q377.6 511.3 376.1 512.7Q374.6 514.2 373.3 515.9Q372 517.5 371 519.3Q369.9 521.1 368.9 522.9Q368 524.8 367.3 526.7Q366.5 528.6 365.8 530.5Q365.1 532.4 364.5 534.4Q363.9 536.3 363.3 538.2Q362.7 540.1 362 542Q361.4 543.9 360.6 545.6Q359.7 547.4 358.7 549Q357.6 550.6 356.3 552Q355 553.4 353.5 554.6Q352 555.8 350.3 556.8Q348.7 557.8 346.9 558.7Q345.1 559.5 343.3 560.1Q341.4 560.8 339.5 561.3Q337.6 561.8 335.7 562.1Q333.7 562.5 331.8 562.8Q329.8 563.1 327.8 563.3Q325.8 563.5 323.8 563.7Q321.8 563.9 319.8 564Q317.8 564.2 315.8 564.4Q313.7 564.5 311.7 564.7Q309.7 565 307.7 565.2Q305.6 565.5 303.6 565.9Q301.6 566.3 299.6 566.9Q297.6 567.4 295.7 568.1L293.8 568.8" stroke="#444" stroke-width="0.55" />
<path d="M444.8 409.9L444.6 411.9Q444.5 413.9 444.3 415.9Q444.2 417.9 444 419.9Q443.8 421.9 443.5 423.8Q443.3 425.8 443 427.8Q442.7 429.8 442.3 431.7Q442 433.7 441.6 435.6Q441.2 437.6 440.7 439.5Q440.2 441.4 439.7 443.3Q439.1 445.2 438.5 447Q437.9 448.8 437.1 450.6Q436.4 452.4 435.5 454.2Q434.6 455.9 433.6 457.5Q432.6 459.2 431.5 460.8Q430.4 462.3 429.1 463.8Q427.9 465.3 426.6 466.8Q425.2 468.2 423.8 469.7Q422.4 471.1 421 472.5Q419.6 474 418.2 475.4Q416.8 476.9 415.4 478.3Q414 479.8 412.6 481.2Q411.2 482.7 409.7 484.1Q408.3 485.5 406.9 486.9Q405.5 488.3 404 489.7Q402.6 491.1 401.1 492.4Q399.6 493.7 398.1 495Q396.6 496.3 395.1 497.6Q393.6 498.8 392 500Q390.4 501.2 388.8 502.3Q387.1 503.5 385.5 504.5Q383.8 505.6 382.1 506.8Q380.3 507.9 378.6 509.2Q377 510.5 375.4 512Q373.8 513.5 372.5 515.2Q371.2 516.9 370.1 518.7Q368.9 520.5 368 522.4Q367.1 524.3 366.3 526.3Q365.5 528.2 364.8 530.2Q364.1 532.1 363.5 534Q362.9 536 362.3 537.9Q361.7 539.8 361.1 541.6Q360.4 543.4 359.6 545.2Q358.8 546.9 357.8 548.4Q356.8 549.9 355.5 551.3Q354.3 552.6 352.8 553.8Q351.4 554.9 349.8 555.9Q348.2 556.9 346.4 557.6Q344.7 558.4 342.9 558.9Q341 559.5 339.2 559.8Q337.3 560.2 335.4 560.5Q333.4 560.7 331.5 560.9Q329.5 561 327.6 561.1Q325.6 561.2 323.6 561.2Q321.6 561.3 319.6 561.3Q317.5 561.4 315.5 561.4Q313.4 561.5 311.4 561.6Q309.3 561.7 307.2 561.9Q305.1 562.1 302.9 562.4Q300.8 562.8 298.6 563.3Q296.5 563.9 294.5 564.6L292.5 565.3" stroke="#2c2c2c" stroke-width="0.75" />
<path d="M355.1 553.5L353.6 554.8Q352.1 556 350.4 557Q348.7 558 347 558.7Q345.2 559.5 343.3 560.1Q341.4 560.7 339.5 561.1Q337.6 561.5 335.6 561.7Q333.6 562 331.7 562.1Q329.7 562.3 327.7 562.4Q325.7 562.4 323.7 562.5Q321.7 562.5 319.7 562.6Q317.6 562.6 315.6 562.7Q313.6 562.7 311.5 562.8Q309.4 562.9 307.3 563.1Q305.3 563.3 303.2 563.7Q301.1 564 299 564.5Q296.8 565.1 294.9 565.8L292.9 566.5" stroke="#4a4a4a" stroke-width="0.6" />
<path d="M447.3 337.4L447.4 339.4Q447.5 341.4 447.6 343.4Q447.7 345.4 447.7 347.5Q447.8 349.5 447.8 351.5Q447.8 353.5 447.8 355.5Q447.8 357.5 447.7 359.5Q447.7 361.5 447.6 363.6Q447.6 365.6 447.5 367.6Q447.4 369.6 447.3 371.6Q447.1 373.6 447 375.6Q446.8 377.6 446.6 379.6Q446.4 381.6 446.2 383.6Q446 385.6 445.7 387.6Q445.5 389.6 445.2 391.6Q444.9 393.6 444.6 395.6Q444.3 397.6 443.9 399.5Q443.6 401.5 443.2 403.5Q442.8 405.5 442.3 407.4Q441.9 409.4 441.4 411.4Q440.9 413.3 440.3 415.2Q439.8 417.2 439.2 419.1Q438.6 421 437.9 422.9Q437.2 424.8 436.5 426.7Q435.8 428.5 435 430.4Q434.2 432.2 433.3 434.1Q432.4 435.9 431.5 437.6Q430.5 439.4 429.5 441.2Q428.5 442.9 427.4 444.6Q426.4 446.3 425.2 448Q424.1 449.6 422.9 451.2Q421.7 452.8 420.4 454.4Q419.2 456 417.9 457.5Q416.6 459.1 415.3 460.6Q413.9 462.1 412.6 463.6Q411.2 465.1 409.8 466.6Q408.5 468 407.1 469.5Q405.7 470.9 404.3 472.4Q402.9 473.8 401.5 475.3Q400.1 476.7 398.6 478.1Q397.2 479.5 395.8 480.9Q394.3 482.3 392.8 483.7Q391.3 485 389.8 486.3Q388.2 487.6 386.7 488.9Q385.1 490.1 383.5 491.3Q381.9 492.6 380.3 493.8Q378.8 495.1 377.3 496.5Q375.9 497.9 374.7 499.5Q373.4 501.1 372.4 502.8Q371.4 504.6 370.5 506.4Q369.7 508.2 368.9 510.1Q368.2 511.9 367.5 513.8Q366.8 515.7 366.2 517.6Q365.5 519.5 364.8 521.4Q364.1 523.3 363.3 525.2Q362.5 527 361.7 528.8Q360.8 530.6 359.8 532.4Q358.9 534.2 357.8 535.9Q356.7 537.6 355.5 539.2Q354.3 540.8 352.9 542.2Q351.5 543.7 350 545Q348.5 546.3 346.8 547.4Q345.1 548.5 343.3 549.4Q341.4 550.2 339.5 550.9Q337.6 551.5 335.7 552Q333.7 552.5 331.8 552.8Q329.8 553.2 327.8 553.5Q325.8 553.8 323.8 554Q321.8 554.2 319.8 554.4Q317.8 554.6 315.8 554.8Q313.8 554.9 311.8 555.2Q309.8 555.4 307.8 555.7Q305.8 555.9 303.8 556.3Q301.8 556.7 299.9 557.2Q297.9 557.7 296.1 558.5L294.2 559.2" stroke="#141414" stroke-width="1.1" />
<path d="M437.4 420.6L436.7 422.5Q436.1 424.4 435.3 426.2Q434.6 428.1 433.8 429.9Q433 431.7 432.2 433.5Q431.3 435.3 430.4 437.1Q429.4 438.8 428.4 440.5Q427.4 442.3 426.4 443.9Q425.3 445.6 424.2 447.3Q423.1 448.9 421.9 450.5Q420.7 452.1 419.4 453.6Q418.2 455.2 416.9 456.7Q415.6 458.3 414.3 459.8Q413 461.3 411.6 462.8Q410.3 464.2 408.9 465.7Q407.6 467.2 406.2 468.6Q404.8 470.1 403.4 471.5Q402 473 400.6 474.4Q399.2 475.8 397.8 477.2Q396.3 478.6 394.9 480Q393.4 481.4 392 482.7Q390.5 484.1 389 485.4Q387.5 486.7 385.9 487.9Q384.3 489.1 382.7 490.3Q381.1 491.6 379.5 492.9Q377.9 494.2 376.5 495.6Q375 497.1 373.7 498.7Q372.4 500.4 371.4 502.2Q370.3 504 369.4 505.8Q368.5 507.7 367.8 509.6Q367 511.5 366.3 513.4Q365.7 515.3 365 517.2Q364.3 519.1 363.6 521Q362.9 522.8 362.2 524.7Q361.4 526.5 360.5 528.3Q359.7 530.1 358.7 531.8Q357.8 533.5 356.7 535.2Q355.7 536.9 354.5 538.4Q353.3 540 352 541.4Q350.7 542.8 349.2 544.1Q347.7 545.3 346.1 546.4Q344.5 547.4 342.7 548.2Q341 549.1 339.1 549.7Q337.3 550.3 335.4 550.8Q333.5 551.3 331.5 551.6Q329.6 552 327.6 552.2Q325.6 552.5 323.6 552.7Q321.7 552.9 319.7 553.1Q317.7 553.3 315.7 553.5Q313.6 553.7 311.6 553.9Q309.6 554.1 307.6 554.4Q305.6 554.7 303.6 555.1Q301.5 555.5 299.6 556Q297.6 556.5 295.6 557.3L293.7 558" stroke="#444" stroke-width="0.55" />
<path d="M442.4 393.2L442.1 395.2Q441.8 397.2 441.5 399.1Q441.1 401.1 440.7 403Q440.3 405 439.9 406.9Q439.5 408.8 439 410.7Q438.5 412.7 437.9 414.6Q437.4 416.5 436.8 418.3Q436.2 420.2 435.5 422.1Q434.9 423.9 434.2 425.8Q433.4 427.6 432.7 429.4Q431.9 431.2 431 433Q430.2 434.7 429.3 436.5Q428.3 438.2 427.4 439.9Q426.4 441.6 425.3 443.3Q424.3 444.9 423.2 446.5Q422 448.2 420.9 449.7Q419.7 451.3 418.5 452.9Q417.2 454.4 416 455.9Q414.7 457.5 413.4 459Q412.1 460.4 410.7 461.9Q409.4 463.4 408 464.9Q406.7 466.3 405.3 467.8Q403.9 469.2 402.5 470.6Q401.1 472.1 399.7 473.5Q398.3 474.9 396.9 476.3Q395.5 477.7 394 479.1Q392.6 480.5 391.1 481.8Q389.7 483.1 388.2 484.4Q386.7 485.7 385.1 486.9Q383.6 488.1 381.9 489.4Q380.3 490.6 378.7 491.9Q377.1 493.3 375.6 494.8Q374 496.3 372.7 498Q371.4 499.7 370.3 501.5Q369.2 503.4 368.3 505.3Q367.4 507.2 366.6 509.1Q365.9 511.1 365.2 513Q364.5 514.9 363.8 516.8Q363.1 518.7 362.4 520.5Q361.8 522.4 361 524.2Q360.2 526 359.4 527.8Q358.6 529.5 357.6 531.2Q356.7 532.9 355.7 534.5Q354.7 536.1 353.5 537.6Q352.4 539.2 351.1 540.5Q349.8 541.9 348.4 543.1Q346.9 544.3 345.3 545.2Q343.8 546.1 342.1 546.8Q340.4 547.5 338.5 548Q336.7 548.5 334.9 548.8Q333 549.1 331.1 549.3Q329.2 549.5 327.2 549.6Q325.3 549.7 323.3 549.7Q321.3 549.8 319.3 549.8Q317.3 549.8 315.3 549.9Q313.3 549.9 311.2 550Q309.1 550.1 307 550.3Q304.9 550.4 302.7 550.8Q300.5 551.1 298.3 551.6Q296.1 552.2 294.1 552.9L292 553.7" stroke="#2c2c2c" stroke-width="0.75" />
<path d="M353.3 540L352 541.4Q350.7 542.8 349.2 544Q347.7 545.3 346 546.2Q344.4 547.2 342.6 547.9Q340.8 548.7 339 549.2Q337.1 549.7 335.2 550Q333.3 550.3 331.3 550.5Q329.4 550.7 327.4 550.8Q325.4 550.9 323.4 551Q321.5 551 319.5 551.1Q317.4 551.1 315.4 551.1Q313.4 551.2 311.3 551.2Q309.3 551.3 307.2 551.5Q305.1 551.7 303 552Q300.8 552.3 298.7 552.8Q296.5 553.4 294.5 554.1L292.5 554.9" stroke="#4a4a4a" stroke-width="0.6" />
<path d="M297.6 553.8L297.6 558.9" stroke="#444" stroke-width="0.7"/>
<path d="M294.2 567.2L300.5 558" stroke="#444" stroke-width="0.65" />
<path d="M443.4 337.4L443.4 339.4Q443.4 341.4 443.3 343.4Q443.2 345.4 443.1 347.4Q443 349.4 442.8 351.4Q442.7 353.4 442.5 355.4Q442.3 357.4 442.1 359.4Q441.8 361.4 441.5 363.4Q441.2 365.4 440.9 367.3Q440.6 369.3 440.2 371.3Q439.8 373.3 439.4 375.2Q439 377.2 438.5 379.1Q438 381.1 437.5 383Q437 385 436.4 386.9Q435.9 388.8 435.3 390.7Q434.7 392.6 434 394.5Q433.3 396.4 432.6 398.3Q431.9 400.2 431.2 402Q430.4 403.9 429.6 405.7Q428.8 407.6 428 409.4Q427.1 411.2 426.2 413Q425.3 414.8 424.4 416.5Q423.4 418.3 422.4 420.1Q421.5 421.8 420.4 423.5Q419.4 425.3 418.3 426.9Q417.3 428.6 416.2 430.3Q415 432 413.9 433.6Q412.8 435.3 411.6 436.9Q410.4 438.5 409.2 440.1Q408 441.7 406.7 443.3Q405.5 444.9 404.2 446.4Q402.9 447.9 401.6 449.4Q400.3 451 398.9 452.4Q397.6 453.9 396.2 455.4Q394.8 456.9 393.4 458.3Q392 459.7 390.6 461.1Q389.2 462.5 387.7 463.9Q386.2 465.3 384.8 466.6Q383.3 468 381.8 469.3Q380.3 470.7 378.9 472.1Q377.4 473.4 376.1 475Q374.8 476.5 373.7 478.2Q372.6 479.9 371.7 481.7Q370.9 483.5 370.1 485.3Q369.4 487.2 368.7 489.1Q368.1 491 367.5 492.9Q367 494.8 366.4 496.8Q365.9 498.7 365.3 500.6Q364.7 502.5 364.1 504.4Q363.5 506.4 362.8 508.2Q362.2 510.1 361.4 512Q360.6 513.8 359.7 515.6Q358.7 517.4 357.6 519Q356.5 520.7 355.2 522.2Q353.9 523.7 352.4 525.1Q350.9 526.4 349.3 527.6Q347.7 528.8 346 529.9Q344.3 530.9 342.5 531.8Q340.7 532.7 338.8 533.4Q336.9 534.1 335 534.7Q333.1 535.2 331.1 535.7Q329.2 536.1 327.2 536.3Q325.2 536.6 323.2 536.7Q321.2 536.8 319.2 536.8Q317.2 536.8 315.2 536.7Q313.2 536.7 311.2 536.7Q309.2 536.7 307.2 536.9Q305.2 537.1 303.2 537.5Q301.3 538 299.4 538.7Q297.6 539.5 295.9 540.6L294.2 541.7" stroke="#141414" stroke-width="1.1" />
<path d="M424.2 414.2L423.3 416Q422.3 417.7 421.3 419.4Q420.4 421.2 419.4 422.9Q418.3 424.6 417.3 426.3Q416.2 428 415.1 429.6Q414 431.3 412.9 432.9Q411.7 434.6 410.6 436.2Q409.4 437.8 408.2 439.4Q407 440.9 405.7 442.5Q404.5 444.1 403.2 445.6Q401.9 447.1 400.6 448.6Q399.3 450.1 398 451.6Q396.7 453.1 395.3 454.5Q393.9 456 392.5 457.4Q391.1 458.8 389.7 460.2Q388.3 461.6 386.8 463Q385.4 464.4 383.9 465.7Q382.4 467 380.9 468.4Q379.4 469.7 378 471.2Q376.5 472.6 375.2 474.2Q373.8 475.7 372.7 477.5Q371.5 479.2 370.6 481.1Q369.7 482.9 369 484.9Q368.2 486.8 367.6 488.7Q366.9 490.6 366.3 492.5Q365.8 494.5 365.2 496.4Q364.7 498.3 364.1 500.3Q363.5 502.2 362.9 504.1Q362.3 506 361.7 507.8Q361 509.7 360.2 511.5Q359.5 513.3 358.6 515Q357.7 516.7 356.6 518.3Q355.5 519.9 354.2 521.4Q353 522.9 351.6 524.2Q350.1 525.5 348.6 526.6Q347 527.8 345.3 528.8Q343.7 529.8 341.9 530.7Q340.2 531.5 338.3 532.2Q336.5 532.9 334.6 533.5Q332.8 534 330.9 534.4Q328.9 534.8 327 535.1Q325.1 535.4 323.1 535.5Q321.1 535.6 319.2 535.6Q317.2 535.6 315.2 535.5Q313.2 535.4 311.1 535.4Q309.1 535.4 307 535.6Q305 535.8 302.9 536.3Q300.9 536.8 298.9 537.6Q297 538.4 295.3 539.5L293.5 540.6" stroke="#444" stroke-width="0.55" />
<path d="M440.6 337.4L440.6 339.4Q440.6 341.3 440.5 343.3Q440.4 345.3 440.3 347.3Q440.2 349.2 440.1 351.2Q439.9 353.2 439.7 355.1Q439.5 357.1 439.3 359.1Q439 361 438.8 363Q438.5 364.9 438.1 366.9Q437.8 368.8 437.4 370.8Q437.1 372.7 436.7 374.6Q436.2 376.6 435.8 378.5Q435.3 380.4 434.8 382.3Q434.3 384.2 433.8 386.1Q433.2 388 432.6 389.9Q432 391.7 431.4 393.6Q430.7 395.5 430 397.3Q429.3 399.1 428.6 401Q427.8 402.8 427 404.6Q426.3 406.4 425.4 408.2Q424.6 410 423.7 411.7Q422.8 413.5 421.9 415.2Q421 417 420 418.7Q419 420.4 418 422.1Q417 423.8 416 425.5Q414.9 427.1 413.8 428.8Q412.7 430.4 411.6 432Q410.5 433.7 409.3 435.3Q408.2 436.9 407 438.4Q405.8 440 404.5 441.5Q403.3 443.1 402 444.6Q400.8 446.1 399.5 447.6Q398.2 449.1 396.8 450.6Q395.5 452 394.2 453.5Q392.8 454.9 391.4 456.3Q390 457.7 388.6 459.1Q387.2 460.5 385.8 461.9Q384.3 463.2 382.9 464.6Q381.4 465.9 379.9 467.3Q378.4 468.6 376.9 470.1Q375.4 471.5 374 473.2Q372.6 474.8 371.4 476.6Q370.2 478.5 369.2 480.4Q368.3 482.3 367.5 484.3Q366.8 486.2 366.1 488.2Q365.4 490.1 364.9 492.1Q364.3 494 363.7 496Q363.2 497.9 362.6 499.8Q362.1 501.7 361.5 503.6Q360.9 505.5 360.2 507.3Q359.6 509.1 358.8 510.9Q358.1 512.6 357.2 514.3Q356.3 515.9 355.3 517.5Q354.3 519 353.1 520.4Q351.9 521.8 350.5 523Q349.1 524.3 347.6 525.4Q346.1 526.4 344.5 527.3Q342.8 528.3 341.1 529Q339.4 529.7 337.6 530.3Q335.8 530.9 334 531.3Q332.2 531.7 330.3 531.9Q328.5 532.2 326.6 532.3Q324.8 532.4 322.9 532.3Q321.1 532.3 319.2 532.1Q317.3 531.9 315.3 531.7Q313.2 531.5 311.1 531.4Q308.9 531.3 306.6 531.4Q304.3 531.5 301.9 532Q299.5 532.5 297.1 533.4Q294.8 534.3 292.9 535.5L291 536.7" stroke="#2c2c2c" stroke-width="0.75" />
<path d="M352.8 522.7L351.3 524Q349.9 525.2 348.4 526.4Q346.8 527.5 345.1 528.4Q343.4 529.4 341.7 530.1Q339.9 530.9 338.1 531.5Q336.2 532 334.3 532.5Q332.5 532.9 330.6 533.1Q328.7 533.4 326.8 533.5Q324.9 533.6 323 533.6Q321.1 533.5 319.2 533.4Q317.2 533.2 315.2 533Q313.2 532.8 311.1 532.7Q309 532.6 306.7 532.7Q304.5 532.8 302.2 533.2Q299.9 533.7 297.6 534.6Q295.4 535.5 293.5 536.6L291.7 537.8" stroke="#4a4a4a" stroke-width="0.6" />
<path d="M297.6 536.3L297.6 541.4" stroke="#444" stroke-width="0.7"/>
<path d="M294.2 549.7L300.5 540.5" stroke="#444" stroke-width="0.65" />
<path d="M418.6 337.4L418.5 339.4Q418.5 341.4 418.4 343.4Q418.2 345.4 418.1 347.4Q417.9 349.4 417.7 351.4Q417.5 353.4 417.3 355.4Q417 357.3 416.7 359.3Q416.4 361.3 416.1 363.3Q415.7 365.2 415.3 367.2Q414.9 369.2 414.5 371.1Q414 373.1 413.5 375Q413 376.9 412.4 378.8Q411.8 380.8 411.2 382.7Q410.5 384.6 409.8 386.4Q409.1 388.3 408.3 390.2Q407.6 392 406.7 393.8Q405.9 395.6 405 397.4Q404.1 399.2 403.1 401Q402.1 402.7 401.1 404.4Q400 406.1 398.9 407.8Q397.8 409.4 396.6 411.1Q395.5 412.7 394.2 414.3Q393 415.9 391.8 417.4Q390.6 419 389.3 420.6Q388.1 422.2 386.8 423.7Q385.6 425.3 384.4 426.9Q383.2 428.5 382 430.1Q380.9 431.8 379.8 433.4Q378.7 435.1 377.6 436.8Q376.6 438.5 375.7 440.3Q374.8 442.1 374 443.9Q373.2 445.8 372.5 447.6Q371.8 449.5 371.2 451.4Q370.6 453.3 370.1 455.3Q369.6 457.2 369.2 459.2Q368.8 461.1 368.4 463.1Q368 465.1 367.6 467Q367.2 469 366.8 471Q366.4 472.9 366 474.9Q365.6 476.8 365.1 478.8Q364.6 480.7 364 482.6Q363.5 484.5 362.8 486.4Q362.1 488.3 361.3 490.1Q360.5 492 359.5 493.7Q358.5 495.5 357.4 497.1Q356.2 498.7 354.8 500.2Q353.5 501.7 352 503Q350.5 504.3 348.9 505.5Q347.3 506.7 345.6 507.8Q343.9 508.8 342.1 509.7Q340.3 510.6 338.4 511.3Q336.6 512.1 334.7 512.7Q332.8 513.3 330.8 513.8Q328.9 514.3 326.9 514.6Q324.9 514.9 322.9 515Q320.9 515.2 318.9 515.2Q316.9 515.2 314.9 515.2Q312.9 515.2 310.9 515.2Q308.9 515.3 306.9 515.5Q305 515.7 303 516.3Q301.1 516.8 299.3 517.7Q297.5 518.5 295.8 519.7L294.2 520.8" stroke="#141414" stroke-width="1.1" />
<path d="M392 415.1L390.8 416.7Q389.6 418.2 388.3 419.8Q387.1 421.4 385.9 423Q384.6 424.5 383.4 426.2Q382.2 427.8 381 429.4Q379.8 431 378.7 432.7Q377.6 434.4 376.6 436.2Q375.5 437.9 374.6 439.7Q373.6 441.6 372.8 443.4Q372 445.3 371.3 447.2Q370.6 449.1 370 451.1Q369.4 453 368.9 455Q368.4 456.9 368 458.9Q367.6 460.9 367.2 462.8Q366.8 464.8 366.4 466.8Q366 468.7 365.6 470.7Q365.2 472.7 364.8 474.6Q364.4 476.5 363.9 478.5Q363.4 480.4 362.8 482.3Q362.3 484.2 361.6 486Q361 487.8 360.2 489.6Q359.4 491.4 358.4 493.1Q357.5 494.8 356.3 496.4Q355.2 497.9 353.9 499.4Q352.6 500.8 351.2 502.1Q349.7 503.4 348.2 504.5Q346.6 505.7 344.9 506.7Q343.3 507.7 341.5 508.6Q339.8 509.4 338 510.2Q336.2 510.9 334.3 511.5Q332.4 512.1 330.5 512.6Q328.6 513 326.7 513.3Q324.8 513.6 322.8 513.8Q320.9 513.9 318.9 514Q316.9 514 314.9 513.9Q312.9 513.9 310.9 514Q308.8 514 306.8 514.3Q304.7 514.5 302.7 515.1Q300.7 515.6 298.8 516.5Q296.9 517.4 295.2 518.6L293.5 519.8" stroke="#444" stroke-width="0.55" />
<path d="M415.7 337.3L415.6 339.3Q415.6 341.3 415.5 343.2Q415.4 345.2 415.2 347.2Q415 349.1 414.9 351.1Q414.7 353 414.4 355Q414.2 356.9 413.9 358.9Q413.6 360.8 413.2 362.8Q412.9 364.7 412.5 366.6Q412.1 368.5 411.6 370.4Q411.2 372.4 410.7 374.2Q410.2 376.1 409.6 378Q409 379.9 408.4 381.7Q407.8 383.6 407.1 385.4Q406.4 387.2 405.7 389Q404.9 390.8 404.1 392.6Q403.3 394.4 402.4 396.1Q401.5 397.8 400.6 399.5Q399.6 401.2 398.6 402.9Q397.6 404.5 396.5 406.2Q395.4 407.8 394.3 409.4Q393.1 410.9 391.9 412.5Q390.7 414.1 389.5 415.7Q388.3 417.2 387 418.8Q385.8 420.4 384.6 422Q383.3 423.5 382.1 425.2Q380.9 426.8 379.7 428.4Q378.5 430.1 377.3 431.8Q376.2 433.6 375.1 435.3Q374.1 437.1 373.1 439Q372.2 440.8 371.3 442.8Q370.5 444.7 369.8 446.6Q369 448.6 368.4 450.6Q367.8 452.6 367.3 454.6Q366.8 456.6 366.4 458.5Q365.9 460.5 365.5 462.5Q365.1 464.5 364.8 466.5Q364.4 468.4 364 470.4Q363.6 472.3 363.2 474.2Q362.7 476.2 362.3 478.1Q361.8 479.9 361.3 481.8Q360.7 483.6 360.1 485.4Q359.4 487.2 358.7 488.9Q357.9 490.7 357 492.3Q356.1 493.9 355 495.4Q353.9 496.9 352.7 498.3Q351.5 499.6 350.1 500.9Q348.7 502.1 347.2 503.2Q345.6 504.2 344 505.2Q342.4 506.1 340.7 506.8Q338.9 507.6 337.2 508.2Q335.4 508.8 333.6 509.3Q331.8 509.7 329.9 510Q328.1 510.3 326.3 510.5Q324.4 510.6 322.6 510.6Q320.7 510.6 318.9 510.5Q317 510.4 314.9 510.2Q312.9 510.1 310.7 510Q308.5 510 306.2 510.1Q303.9 510.3 301.5 510.9Q299.1 511.5 296.9 512.5Q294.6 513.5 292.8 514.8L290.9 516" stroke="#2c2c2c" stroke-width="0.75" />
<path d="M352.3 500.5L350.9 501.8Q349.5 503.1 347.9 504.2Q346.3 505.3 344.7 506.2Q343 507.2 341.2 508Q339.5 508.7 337.6 509.4Q335.8 510 334 510.5Q332.1 510.9 330.2 511.2Q328.3 511.6 326.5 511.7Q324.6 511.9 322.7 511.9Q320.8 511.9 318.9 511.8Q316.9 511.6 314.9 511.5Q312.9 511.3 310.8 511.3Q308.6 511.2 306.4 511.4Q304.1 511.6 301.8 512.1Q299.6 512.7 297.4 513.6Q295.2 514.6 293.4 515.8L291.6 517.1" stroke="#4a4a4a" stroke-width="0.6" />
<path d="M297.6 515.5L297.6 520.5" stroke="#444" stroke-width="0.7"/>
<path d="M294.2 528.8L300.5 519.6" stroke="#444" stroke-width="0.65" />
<path d="M383 337.4L382.9 339.4Q382.9 341.4 382.7 343.5Q382.5 345.5 382.2 347.5Q381.9 349.5 381.5 351.5Q381.1 353.5 380.7 355.4Q380.2 357.4 379.7 359.4Q379.2 361.3 378.7 363.3Q378.2 365.3 377.7 367.2Q377.2 369.2 376.7 371.1Q376.2 373.1 375.7 375.1Q375.3 377 374.8 379Q374.4 381 374 383Q373.5 385 373.1 386.9Q372.7 388.9 372.4 390.9Q372 392.9 371.6 394.9Q371.2 396.9 370.8 398.9Q370.5 400.9 370.1 402.9Q369.7 404.8 369.3 406.8Q368.9 408.8 368.6 410.8Q368.2 412.8 367.8 414.8Q367.4 416.8 367 418.8Q366.7 420.8 366.3 422.7Q365.9 424.7 365.5 426.7Q365.2 428.7 364.8 430.7Q364.4 432.7 364.1 434.7Q363.7 436.7 363.3 438.7Q363 440.7 362.6 442.7Q362.3 444.7 361.9 446.7Q361.6 448.6 361.2 450.6Q360.8 452.6 360.4 454.6Q360 456.6 359.6 458.6Q359.1 460.5 358.5 462.5Q357.9 464.4 357 466.2Q356.2 468.1 355.1 469.8Q353.9 471.4 352.6 472.9Q351.2 474.4 349.6 475.7Q348.1 477 346.4 478.1Q344.7 479.2 342.9 480.2Q341.1 481.1 339.2 481.9Q337.4 482.7 335.5 483.3Q333.5 484 331.6 484.5Q329.6 485 327.7 485.5Q325.7 485.9 323.7 486.3Q321.7 486.7 319.7 487.1Q317.7 487.4 315.7 487.8Q313.7 488.1 311.7 488.5Q309.7 488.8 307.8 489.3Q305.8 489.7 303.8 490.2Q301.9 490.7 299.9 491.3Q298 491.8 296.1 492.6L294.2 493.3" stroke="#141414" stroke-width="1.1" />
<path d="M374 376.8L373.6 378.7Q373.2 380.7 372.7 382.7Q372.3 384.7 371.9 386.7Q371.5 388.7 371.1 390.7Q370.7 392.7 370.4 394.7Q370 396.7 369.6 398.6Q369.2 400.6 368.9 402.6Q368.5 404.6 368.1 406.6Q367.7 408.6 367.3 410.6Q366.9 412.6 366.6 414.6Q366.2 416.5 365.8 418.5Q365.4 420.5 365.1 422.5Q364.7 424.5 364.3 426.5Q363.9 428.5 363.6 430.5Q363.2 432.5 362.8 434.5Q362.5 436.5 362.1 438.5Q361.8 440.5 361.4 442.4Q361 444.4 360.7 446.4Q360.3 448.4 360 450.4Q359.6 452.4 359.2 454.4Q358.8 456.3 358.4 458.3Q357.9 460.2 357.3 462.1Q356.7 463.9 355.9 465.7Q355.1 467.5 354 469.1Q353 470.7 351.6 472.1Q350.3 473.5 348.8 474.8Q347.3 476 345.7 477.1Q344.1 478.1 342.3 479.1Q340.6 480 338.8 480.7Q336.9 481.5 335.1 482.1Q333.2 482.8 331.2 483.3Q329.3 483.8 327.4 484.3Q325.4 484.7 323.4 485.1Q321.5 485.5 319.5 485.8Q317.5 486.2 315.5 486.5Q313.5 486.9 311.5 487.2Q309.5 487.6 307.5 488Q305.5 488.5 303.5 489Q301.5 489.5 299.5 490.1Q297.6 490.7 295.7 491.4L293.8 492.1" stroke="#444" stroke-width="0.55" />
<path d="M379.4 337.3L379.3 339.3Q379.3 341.2 379.1 343.1Q378.9 345 378.6 347Q378.3 348.9 378 350.8Q377.6 352.7 377.2 354.6Q376.7 356.6 376.2 358.5Q375.7 360.4 375.2 362.4Q374.7 364.3 374.2 366.3Q373.7 368.3 373.2 370.3Q372.7 372.2 372.2 374.2Q371.7 376.2 371.3 378.2Q370.9 380.2 370.4 382.2Q370 384.2 369.6 386.2Q369.2 388.2 368.8 390.2Q368.4 392.2 368.1 394.2Q367.7 396.2 367.3 398.2Q366.9 400.2 366.5 402.2Q366.2 404.2 365.8 406.2Q365.4 408.1 365 410.1Q364.6 412.1 364.3 414.1Q363.9 416.1 363.5 418.1Q363.1 420.1 362.7 422.1Q362.4 424.1 362 426.1Q361.6 428.1 361.2 430.1Q360.9 432 360.5 434Q360.2 436 359.8 438Q359.4 440 359.1 442Q358.7 444 358.4 446Q358 448 357.7 450Q357.3 452 356.9 453.9Q356.5 455.8 356.1 457.7Q355.6 459.6 355.1 461.3Q354.5 463.1 353.8 464.7Q353 466.3 352.1 467.8Q351.1 469.2 349.9 470.5Q348.7 471.8 347.3 472.9Q345.9 474 344.3 475Q342.7 475.9 341.1 476.7Q339.4 477.4 337.6 478Q335.8 478.6 334 479Q332.2 479.5 330.3 479.8Q328.4 480.1 326.5 480.4Q324.6 480.6 322.6 480.8Q320.6 481 318.6 481.2Q316.6 481.3 314.6 481.5Q312.6 481.7 310.5 481.9Q308.4 482.1 306.3 482.4Q304.2 482.7 302 483.2Q299.9 483.6 297.7 484.2Q295.5 484.8 293.5 485.6L291.5 486.3" stroke="#2c2c2c" stroke-width="0.75" />
<path d="M352.1 470L350.8 471.4Q349.6 472.7 348.1 473.9Q346.6 475 345 476Q343.4 477 341.6 477.8Q339.9 478.6 338.1 479.2Q336.3 479.8 334.4 480.2Q332.5 480.7 330.6 481Q328.7 481.4 326.8 481.6Q324.8 481.8 322.8 482Q320.9 482.2 318.9 482.4Q316.9 482.6 314.8 482.7Q312.8 482.9 310.7 483.1Q308.7 483.4 306.6 483.7Q304.5 484 302.3 484.4Q300.2 484.8 298.1 485.4Q296 486 294 486.7L292 487.5" stroke="#4a4a4a" stroke-width="0.6" />
<path d="M297.6 486.3L297.6 493" stroke="#444" stroke-width="0.7"/>
<path d="M294.2 501.3L300.5 492.1" stroke="#444" stroke-width="0.65" />
<path d="M364 337.4L364 339.4Q364 341.4 364 343.4Q363.9 345.4 363.9 347.4Q363.8 349.4 363.7 351.4Q363.7 353.4 363.6 355.4Q363.5 357.5 363.3 359.5Q363.2 361.5 363.1 363.5Q362.9 365.5 362.8 367.5Q362.6 369.5 362.4 371.5Q362.2 373.4 361.9 375.4Q361.7 377.4 361.5 379.4Q361.2 381.4 360.9 383.4Q360.7 385.4 360.4 387.4Q360.1 389.4 359.8 391.3Q359.5 393.3 359.2 395.3Q358.9 397.3 358.7 399.3Q358.4 401.3 358.1 403.3Q357.8 405.2 357.4 407.2Q357.1 409.2 356.6 411.1Q356.2 413.1 355.6 415Q355.1 417 354.4 418.9Q353.7 420.7 352.9 422.5Q352 424.4 351 426.1Q350 427.8 348.8 429.4Q347.5 431 346.1 432.4Q344.7 433.9 343.1 435Q341.5 436.2 339.7 437.1Q337.9 438 336 438.7Q334.1 439.4 332.2 439.9Q330.2 440.4 328.3 440.8Q326.3 441.2 324.3 441.5Q322.4 441.9 320.4 442.2Q318.4 442.5 316.4 442.9Q314.5 443.3 312.5 443.7Q310.6 444.2 308.6 444.8Q306.7 445.4 304.9 446.2Q303.1 447.1 301.4 448.1Q299.7 449.2 298.2 450.5Q296.7 451.9 295.4 453.4L294.2 455" stroke="#141414" stroke-width="1.1" />
<path d="M359.4 385.2L359.1 387.2Q358.9 389.2 358.6 391.2Q358.3 393.2 358 395.1Q357.7 397.1 357.4 399.1Q357.1 401.1 356.8 403.1Q356.5 405 356.2 407Q355.8 408.9 355.4 410.9Q355 412.8 354.4 414.7Q353.9 416.6 353.2 418.4Q352.6 420.3 351.7 422Q350.9 423.8 349.9 425.4Q348.9 427.1 347.8 428.7Q346.6 430.2 345.3 431.6Q343.9 432.9 342.4 434Q340.8 435.1 339.1 436Q337.4 436.9 335.6 437.5Q333.8 438.2 331.9 438.7Q330 439.2 328 439.6Q326.1 439.9 324.1 440.3Q322.1 440.6 320.2 441Q318.2 441.3 316.2 441.7Q314.2 442 312.2 442.5Q310.2 443 308.3 443.6Q306.3 444.3 304.4 445.1Q302.5 446 300.7 447.1Q298.9 448.2 297.4 449.6Q295.8 451 294.5 452.6L293.2 454.2" stroke="#444" stroke-width="0.55" />
<path d="M360.6 337.4L360.6 339.4Q360.6 341.4 360.6 343.4Q360.5 345.4 360.5 347.3Q360.4 349.3 360.3 351.3Q360.3 353.3 360.2 355.3Q360.1 357.3 360 359.2Q359.8 361.2 359.7 363.2Q359.5 365.2 359.4 367.2Q359.2 369.1 359 371.1Q358.8 373.1 358.6 375.1Q358.3 377 358.1 379Q357.8 381 357.6 382.9Q357.3 384.9 357 386.9Q356.7 388.9 356.4 390.9Q356.2 392.8 355.9 394.8Q355.6 396.8 355.3 398.8Q355 400.8 354.7 402.7Q354.4 404.7 354.1 406.6Q353.7 408.5 353.3 410.4Q352.9 412.3 352.4 414.1Q351.9 415.9 351.2 417.7Q350.6 419.4 349.8 421.1Q349 422.8 348.1 424.3Q347.1 425.9 346.1 427.4Q345 428.8 343.7 430Q342.5 431.3 341.1 432.3Q339.7 433.3 338.1 434.1Q336.6 434.9 334.8 435.4Q333.1 436 331.2 436.3Q329.4 436.5 327.4 436.6Q325.5 436.7 323.5 436.6Q321.5 436.6 319.4 436.5Q317.3 436.4 315.1 436.3Q313 436.2 310.7 436.3Q308.4 436.4 305.9 436.7Q303.5 437 301 437.7Q298.5 438.4 295.9 439.6Q293.4 440.8 291.1 442.6Q288.8 444.4 287.2 446.3L285.6 448.2" stroke="#2c2c2c" stroke-width="0.75" />
<path d="M337.1 436.1L335.3 436.6Q333.5 437.2 331.5 437.5Q329.6 437.8 327.7 437.8Q325.7 437.9 323.7 437.9Q321.7 437.8 319.6 437.7Q317.5 437.6 315.4 437.5Q313.2 437.5 311 437.5Q308.7 437.6 306.3 437.9Q304 438.2 301.5 438.8Q299 439.5 296.6 440.7Q294.2 441.8 291.9 443.6Q289.7 445.3 288.1 447.1L286.6 449" stroke="#4a4a4a" stroke-width="0.6" />
<path d="M297.6 444.5L297.6 454.7" stroke="#444" stroke-width="0.7"/>
<path d="M294.2 463L300.5 453.8" stroke="#444" stroke-width="0.65" />
<path d="M329.3 337.4L329.1 339.4Q328.9 341.5 328.7 343.5Q328.5 345.6 328.3 347.6Q328 349.6 327.8 351.7Q327.5 353.7 327.2 355.7Q326.9 357.8 326.5 359.8Q326.2 361.8 325.8 363.8Q325.5 365.8 325 367.8Q324.6 369.8 324.2 371.8Q323.8 373.9 323.3 375.8Q322.8 377.8 322.3 379.8Q321.8 381.8 321.2 383.8Q320.6 385.7 319.9 387.7Q319.3 389.6 318.6 391.5Q317.8 393.4 316.9 395.3Q316.1 397.2 314.9 398.8Q313.6 400.4 311.9 401.5Q310.2 402.6 308.2 403.2Q306.3 403.8 304.2 404.1Q302.2 404.4 300.2 404.7Q298.2 405 296.2 405.5L294.2 406" stroke="#141414" stroke-width="1.0" />
<path d="M326.3 337.1L326.1 339.2Q326 341.2 325.7 343.2Q325.5 345.2 325.3 347.2Q325.1 349.3 324.8 351.3Q324.5 353.3 324.2 355.3Q323.9 357.3 323.6 359.3Q323.2 361.3 322.9 363.3Q322.5 365.3 322.1 367.2Q321.7 369.2 321.3 371.2Q320.8 373.2 320.4 375.1Q319.9 377.1 319.4 379.1Q318.9 381 318.3 382.9Q317.7 384.8 317.1 386.7Q316.5 388.6 315.8 390.4Q315.1 392.3 314.3 393.9Q313.5 395.6 312.5 396.9Q311.6 398.2 310.3 399.1Q309 399.9 307.3 400.4Q305.6 400.8 303.7 401.1Q301.8 401.4 299.7 401.7Q297.6 402 295.5 402.6L293.4 403.1" stroke="#2c2c2c" stroke-width="0.75" />
<path d="M316 404L314 405.3Q312 406.6 309.9 407.6Q307.8 408.7 305.6 409.6Q303.4 410.4 301.1 411.1Q298.9 411.7 296.5 412.1L294.2 412.5" stroke="#1e1e1e" stroke-width="0.8" />
<path d="M311 403.8L309 404.8Q307 405.9 304.9 406.7Q302.9 407.5 300.7 408.2Q298.6 408.9 296.4 409.3L294.2 409.8" stroke="#555" stroke-width="0.55" />
<path d="M301.5 405.2L301.2 410.8" stroke="#444" stroke-width="0.7"/>
<path d="M343.8 557L345 560.6" stroke="#444" stroke-width="0.7" />
<path d="M323 565.5L323.4 569.5" stroke="#444" stroke-width="0.7" />
<path d="M301 582L301.3 586.5" stroke="#555" stroke-width="0.7" />
<path d="M387 505.5L388.5 508.5" stroke="#444" stroke-width="0.7" />
<path d="M386.2 526.8L387.4 529.8" stroke="#444" stroke-width="0.7" />
</g>
<path d="M705.5 34.1C718.5 34.1 724.4 38 724.4 47.3C724.4 56.7 718.5 60.6 705.5 60.6C692.5 60.6 686.6 56.7 686.6 47.3C686.6 38 692.5 34.1 705.5 34.1ZM699.6 41L711.4 41Q716.9 41 716.9 46L716.9 49Q716.9 54 711.4 54L699.6 54Q694 54 694 49L694 46Q694 41 699.6 41Z" fill="#0a0a0a" fill-rule="evenodd" stroke="none"/>
<path d="M567.8 35L592.5 35C598.6 35 601.6 37.6 601.6 42.2L601.6 44.9C601.6 48.6 600 50.8 597.2 51.5L603.2 59.8L592.8 59.8L587.9 53.7L576 53.7L576 59.8L567.8 59.8ZM576 42.1L590.8 42.1Q592.8 42.1 592.8 44.3Q592.8 46.5 590.8 46.5L576 46.5Z" fill="#0a0a0a" fill-rule="evenodd" stroke="none"/>
<path d="M681 34.7C685.5 35.2 687.6 38 687.6 41.5" fill="none" stroke="#fff" stroke-width="1.2"/>
<path d="M685.8 50C685 50.8 684.3 51.2 683.4 51.5L689.2 59.8" fill="none" stroke="#fff" stroke-width="1.3"/>
<path d="M603.4 35L678 35C684 35 687.2 37.6 687.2 42.2L687.2 44.9C687.2 48.6 685.6 50.8 683 51.5L688.7 59.8L677.6 59.8L673.2 53.7L661.6 53.7L661.6 59.8L653.1 59.8L653.1 46.5L675.6 46.5Q677.7 46.5 677.7 44.2Q677.7 41.8 675.6 41.8L603.4 41.8Z" fill="#0a0a0a" fill-rule="evenodd" stroke="none"/>
<path d="M603.4 43.5L626.6 43.5L626.6 50.6L612 50.6L612 53.1L631 53.1L631 59.8L603.4 59.8Z" fill="#0a0a0a" fill-rule="evenodd" stroke="none"/>
<path d="M637.9 41.5L646.5 41.5L646.5 59.8L637.9 59.8Z" fill="#0a0a0a" fill-rule="evenodd" stroke="none"/>
<path d="M592.5 42.6L603.6 42.6" stroke="#fff" stroke-width="0.9" fill="none"/>
<path d="M602.6 35L602.6 58.6" stroke="#fff" stroke-width="0.7" fill="none"/>
<path d="M716.9 42.5L725 42.5" stroke="#fff" stroke-width="0.8" fill="none"/>
<path d="M726.1 35L749.4 35C753.2 35 755 37 755 40.2L755 41C755 43 754 44.3 752.6 44.8C754.6 45.5 755.8 47.2 755.8 50L755.8 54C755.8 57.6 753.4 59.8 749.4 59.8L726.1 59.8ZM726.1 41.8L745.4 41.8Q746.3 41.8 746.3 42.65Q746.3 43.5 745.4 43.5L726.1 43.5ZM734.9 50.6L745 50.6Q746.1 50.6 746.1 51.75Q746.1 52.9 745 52.9L734.9 52.9Z" fill="#ed1c24" fill-rule="evenodd" stroke="none"/>
<path d="M750 35.2C754 35.6 755.6 38 755.5 41.8" fill="none" stroke="#fff" stroke-width="0.6"/>
<path d="M755.4 35L779 35C785 35 788 37.6 788 42.2L788 44.9C788 48.6 786.4 50.8 783.6 51.5L790.2 59.8L779.2 59.8L773.7 53.7L763.3 53.7L763.3 59.8L755.8 59.8L755.8 46.5L777.2 46.5Q779.3 46.5 779.3 44.2Q779.3 41.8 777.2 41.8L755.4 41.8Z" fill="#ed1c24" fill-rule="evenodd" stroke="none"/>
<path d="M790.3 35L799 35L799 59.8L790.3 59.8Z" fill="#ed1c24" fill-rule="evenodd" stroke="none"/>
<path d="M842 35L812 35C804 35 800.5 39 800.5 47.4C800.5 55.8 804 59.8 812 59.8L831.2 59.8L831.2 43.8L814 43.8L814 50.6L822 50.6L822 52.9L813.8 52.9C809.4 52.9 807.4 51 807.4 47.4C807.4 43.7 809.4 41.8 813.8 41.8L833 41.8L833 59.8L841.8 59.8L841.8 51.2L855 51.2L855 59.8L863.2 59.8L863.2 41.8L871.5 41.8L871.5 59.8L880.3 59.8L880.3 41.8L888.8 41.8L888.8 35L855 35L855 43.2L841.8 43.2L841.8 35Z" fill="#ed1c24" fill-rule="evenodd" stroke="none"/>
<text x="568.2" y="99.4" font-size="13.3" font-weight="bold" fill="#0c0c0c" style="stroke:#0c0c0c;stroke-width:0.2px" textLength="320.8" lengthAdjust="spacing">RETROBRIGHT HEADLIGHTS AND HOUSINGS</text>
<text x="568.3" y="149.1" font-size="11.3" fill="#111" style="letter-spacing:0.35px;stroke:#111;stroke-width:0.12px"><tspan font-weight="bold">SIZE:</tspan> 7&quot;</text>
<path d="M569 133.9L880 133.9" stroke="#fafafa" stroke-width="1.6" stroke-dasharray="9 2 14 3 6 2" fill="none"/>
</svg>
</body></html>
